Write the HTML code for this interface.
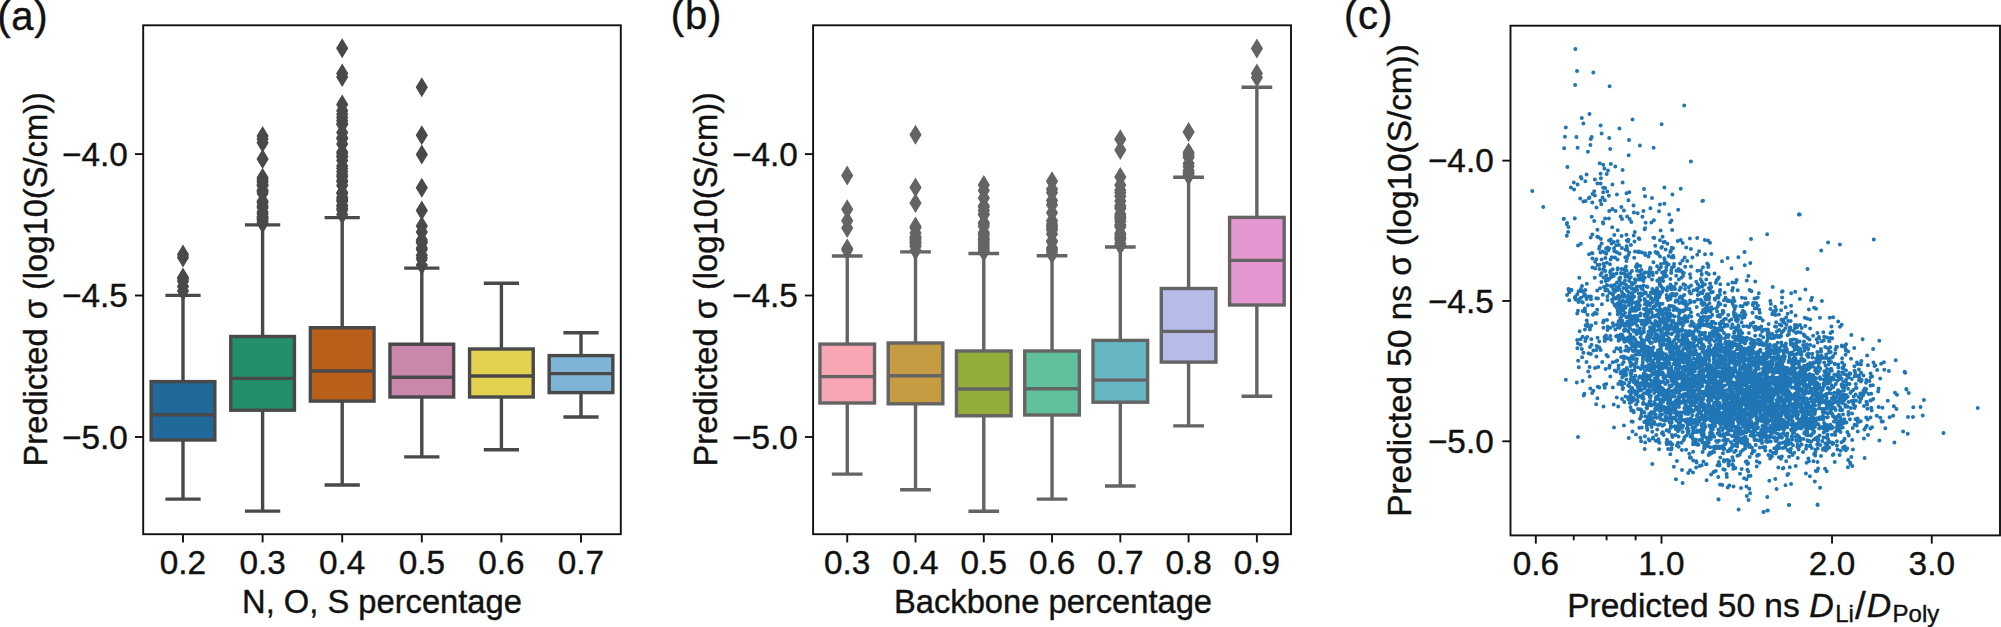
<!DOCTYPE html>
<html><head><meta charset="utf-8"><title>Figure</title>
<style>html,body{margin:0;padding:0;background:#fff}svg{display:block}text{stroke:#111;stroke-width:.4px;stroke-linejoin:round}</style></head>
<body><svg width="2001" height="627" viewBox="0 0 2001 627">
<rect width="2001" height="627" fill="#fff"/>
<g font-family='"Liberation Sans", sans-serif' font-size="33.33" fill="#111">
<path d="M183.00 440.00V499.10M183.00 381.60V295.40M167.08 499.10h31.84M167.08 295.40h31.84" stroke="#494949" stroke-width="3.4" stroke-linecap="square" fill="none"/>
<rect x="151.16" y="381.60" width="63.68" height="58.40" fill="#21699b" stroke="#494949" stroke-width="3.4"/>
<path d="M151.16 414.80h63.68" stroke="#494949" stroke-width="3.4" fill="none"/>
<path d="M262.60 410.20V511.10M262.60 336.50V224.90M246.68 511.10h31.84M246.68 224.90h31.84" stroke="#494949" stroke-width="3.4" stroke-linecap="square" fill="none"/>
<rect x="230.76" y="336.50" width="63.68" height="73.70" fill="#24906b" stroke="#494949" stroke-width="3.4"/>
<path d="M230.76 378.40h63.68" stroke="#494949" stroke-width="3.4" fill="none"/>
<path d="M342.20 401.10V485.00M342.20 327.70V217.60M326.28 485.00h31.84M326.28 217.60h31.84" stroke="#494949" stroke-width="3.4" stroke-linecap="square" fill="none"/>
<rect x="310.36" y="327.70" width="63.68" height="73.40" fill="#ba5f1a" stroke="#494949" stroke-width="3.4"/>
<path d="M310.36 371.00h63.68" stroke="#494949" stroke-width="3.4" fill="none"/>
<path d="M421.80 397.00V456.90M421.80 344.20V268.10M405.88 456.90h31.84M405.88 268.10h31.84" stroke="#494949" stroke-width="3.4" stroke-linecap="square" fill="none"/>
<rect x="389.96" y="344.20" width="63.68" height="52.80" fill="#c988ab" stroke="#494949" stroke-width="3.4"/>
<path d="M389.96 377.30h63.68" stroke="#494949" stroke-width="3.4" fill="none"/>
<path d="M501.40 397.00V449.80M501.40 349.00V283.20M485.48 449.80h31.84M485.48 283.20h31.84" stroke="#494949" stroke-width="3.4" stroke-linecap="square" fill="none"/>
<rect x="469.56" y="349.00" width="63.68" height="48.00" fill="#e2d24f" stroke="#494949" stroke-width="3.4"/>
<path d="M469.56 376.00h63.68" stroke="#494949" stroke-width="3.4" fill="none"/>
<path d="M581.00 392.60V417.00M581.00 355.60V332.70M565.08 417.00h31.84M565.08 332.70h31.84" stroke="#494949" stroke-width="3.4" stroke-linecap="square" fill="none"/>
<rect x="549.16" y="355.60" width="63.68" height="37.00" fill="#7fb4d6" stroke="#494949" stroke-width="3.4"/>
<path d="M549.16 373.60h63.68" stroke="#494949" stroke-width="3.4" fill="none"/>
<path d="M183.0 244.6l6.1 10l-6.1 10l-6.1 -10zM183.0 247.6l6.1 10l-6.1 10l-6.1 -10zM183.0 267.5l6.1 10l-6.1 10l-6.1 -10zM183.0 268.8l6.1 10l-6.1 10l-6.1 -10zM183.0 271.2l6.1 10l-6.1 10l-6.1 -10zM183.0 276.4l6.1 10l-6.1 10l-6.1 -10zM183.0 281.0l6.1 10l-6.1 10l-6.1 -10z" fill="#494949"/>
<path d="M262.6 126.0l6.1 10l-6.1 10l-6.1 -10zM262.6 129.0l6.1 10l-6.1 10l-6.1 -10zM262.6 132.8l6.1 10l-6.1 10l-6.1 -10zM262.6 148.9l6.1 10l-6.1 10l-6.1 -10zM262.6 167.8l6.1 10l-6.1 10l-6.1 -10zM262.6 170.1l6.1 10l-6.1 10l-6.1 -10zM262.6 172.0l6.1 10l-6.1 10l-6.1 -10zM262.6 174.6l6.1 10l-6.1 10l-6.1 -10zM262.6 175.8l6.1 10l-6.1 10l-6.1 -10zM262.6 180.2l6.1 10l-6.1 10l-6.1 -10zM262.6 181.2l6.1 10l-6.1 10l-6.1 -10zM262.6 183.3l6.1 10l-6.1 10l-6.1 -10zM262.6 191.3l6.1 10l-6.1 10l-6.1 -10zM262.6 192.7l6.1 10l-6.1 10l-6.1 -10zM262.6 196.1l6.1 10l-6.1 10l-6.1 -10zM262.6 197.8l6.1 10l-6.1 10l-6.1 -10zM262.6 201.9l6.1 10l-6.1 10l-6.1 -10zM262.6 203.9l6.1 10l-6.1 10l-6.1 -10zM262.6 206.6l6.1 10l-6.1 10l-6.1 -10zM262.6 207.7l6.1 10l-6.1 10l-6.1 -10zM262.6 208.7l6.1 10l-6.1 10l-6.1 -10zM262.6 209.5l6.1 10l-6.1 10l-6.1 -10zM262.6 211.4l6.1 10l-6.1 10l-6.1 -10zM262.6 213.5l6.1 10l-6.1 10l-6.1 -10z" fill="#494949"/>
<path d="M342.2 38.2l6.1 10l-6.1 10l-6.1 -10zM342.2 63.5l6.1 10l-6.1 10l-6.1 -10zM342.2 67.0l6.1 10l-6.1 10l-6.1 -10zM342.2 94.5l6.1 10l-6.1 10l-6.1 -10zM342.2 100.8l6.1 10l-6.1 10l-6.1 -10zM342.2 104.3l6.1 10l-6.1 10l-6.1 -10zM342.2 107.4l6.1 10l-6.1 10l-6.1 -10zM342.2 110.5l6.1 10l-6.1 10l-6.1 -10zM342.2 113.5l6.1 10l-6.1 10l-6.1 -10zM342.2 114.5l6.1 10l-6.1 10l-6.1 -10zM342.2 122.5l6.1 10l-6.1 10l-6.1 -10zM342.2 127.8l6.1 10l-6.1 10l-6.1 -10zM342.2 128.8l6.1 10l-6.1 10l-6.1 -10zM342.2 133.9l6.1 10l-6.1 10l-6.1 -10zM342.2 141.9l6.1 10l-6.1 10l-6.1 -10zM342.2 143.2l6.1 10l-6.1 10l-6.1 -10zM342.2 145.9l6.1 10l-6.1 10l-6.1 -10zM342.2 147.0l6.1 10l-6.1 10l-6.1 -10zM342.2 150.5l6.1 10l-6.1 10l-6.1 -10zM342.2 155.9l6.1 10l-6.1 10l-6.1 -10zM342.2 158.5l6.1 10l-6.1 10l-6.1 -10zM342.2 161.8l6.1 10l-6.1 10l-6.1 -10zM342.2 164.7l6.1 10l-6.1 10l-6.1 -10zM342.2 166.7l6.1 10l-6.1 10l-6.1 -10zM342.2 170.4l6.1 10l-6.1 10l-6.1 -10zM342.2 171.8l6.1 10l-6.1 10l-6.1 -10zM342.2 175.6l6.1 10l-6.1 10l-6.1 -10zM342.2 182.6l6.1 10l-6.1 10l-6.1 -10zM342.2 183.6l6.1 10l-6.1 10l-6.1 -10zM342.2 187.3l6.1 10l-6.1 10l-6.1 -10zM342.2 188.9l6.1 10l-6.1 10l-6.1 -10zM342.2 190.2l6.1 10l-6.1 10l-6.1 -10zM342.2 191.2l6.1 10l-6.1 10l-6.1 -10zM342.2 195.3l6.1 10l-6.1 10l-6.1 -10zM342.2 196.3l6.1 10l-6.1 10l-6.1 -10zM342.2 198.5l6.1 10l-6.1 10l-6.1 -10zM342.2 199.9l6.1 10l-6.1 10l-6.1 -10zM342.2 204.5l6.1 10l-6.1 10l-6.1 -10z" fill="#494949"/>
<path d="M421.8 77.2l6.1 10l-6.1 10l-6.1 -10zM421.8 125.2l6.1 10l-6.1 10l-6.1 -10zM421.8 144.4l6.1 10l-6.1 10l-6.1 -10zM421.8 177.7l6.1 10l-6.1 10l-6.1 -10zM421.8 200.4l6.1 10l-6.1 10l-6.1 -10zM421.8 216.0l6.1 10l-6.1 10l-6.1 -10zM421.8 222.0l6.1 10l-6.1 10l-6.1 -10zM421.8 230.0l6.1 10l-6.1 10l-6.1 -10zM421.8 231.4l6.1 10l-6.1 10l-6.1 -10zM421.8 232.7l6.1 10l-6.1 10l-6.1 -10zM421.8 237.9l6.1 10l-6.1 10l-6.1 -10zM421.8 239.5l6.1 10l-6.1 10l-6.1 -10zM421.8 245.3l6.1 10l-6.1 10l-6.1 -10zM421.8 247.6l6.1 10l-6.1 10l-6.1 -10zM421.8 249.0l6.1 10l-6.1 10l-6.1 -10zM421.8 255.0l6.1 10l-6.1 10l-6.1 -10z" fill="#494949"/>
<path d="" fill="#494949"/>
<path d="" fill="#494949"/>
<rect x="143.2" y="25.3" width="477.60" height="508.90" fill="none" stroke="#111" stroke-width="1.9"/>
<line x1="135.00" y1="154.10" x2="143.20" y2="154.10" stroke="#111" stroke-width="1.9"/>
<text x="127.90" y="165.70" text-anchor="end">−4.0</text>
<line x1="135.00" y1="295.50" x2="143.20" y2="295.50" stroke="#111" stroke-width="1.9"/>
<text x="127.90" y="307.10" text-anchor="end">−4.5</text>
<line x1="135.00" y1="437.00" x2="143.20" y2="437.00" stroke="#111" stroke-width="1.9"/>
<text x="127.90" y="448.60" text-anchor="end">−5.0</text>
<line x1="183.00" y1="534.20" x2="183.00" y2="542.40" stroke="#111" stroke-width="1.9"/>
<text x="183.00" y="573.9" text-anchor="middle">0.2</text>
<line x1="262.60" y1="534.20" x2="262.60" y2="542.40" stroke="#111" stroke-width="1.9"/>
<text x="262.60" y="573.9" text-anchor="middle">0.3</text>
<line x1="342.20" y1="534.20" x2="342.20" y2="542.40" stroke="#111" stroke-width="1.9"/>
<text x="342.20" y="573.9" text-anchor="middle">0.4</text>
<line x1="421.80" y1="534.20" x2="421.80" y2="542.40" stroke="#111" stroke-width="1.9"/>
<text x="421.80" y="573.9" text-anchor="middle">0.5</text>
<line x1="501.40" y1="534.20" x2="501.40" y2="542.40" stroke="#111" stroke-width="1.9"/>
<text x="501.40" y="573.9" text-anchor="middle">0.6</text>
<line x1="581.00" y1="534.20" x2="581.00" y2="542.40" stroke="#111" stroke-width="1.9"/>
<text x="581.00" y="573.9" text-anchor="middle">0.7</text>
<text x="382.00" y="613.3" font-size="32.7" text-anchor="middle">N, O, S percentage</text>
<text transform="translate(46.6 279.25) rotate(-90)" font-size="32.7" text-anchor="middle">Predicted σ (log10(S/cm))</text>
<text x="-2.8" y="29.8" font-size="40" letter-spacing="0.8">(a)</text>
<path d="M847.24 403.00V474.10M847.24 344.10V256.00M833.58 474.10h27.31M833.58 256.00h27.31" stroke="#646464" stroke-width="3.4" stroke-linecap="square" fill="none"/>
<rect x="819.93" y="344.10" width="54.62" height="58.90" fill="#f8a5b4" stroke="#646464" stroke-width="3.4"/>
<path d="M819.93 376.60h54.62" stroke="#646464" stroke-width="3.4" fill="none"/>
<path d="M915.51 403.80V489.80M915.51 343.00V251.90M901.85 489.80h27.31M901.85 251.90h27.31" stroke="#646464" stroke-width="3.4" stroke-linecap="square" fill="none"/>
<rect x="888.20" y="343.00" width="54.62" height="60.80" fill="#c69c43" stroke="#646464" stroke-width="3.4"/>
<path d="M888.20 375.70h54.62" stroke="#646464" stroke-width="3.4" fill="none"/>
<path d="M983.78 415.80V511.30M983.78 351.00V253.50M970.12 511.30h27.31M970.12 253.50h27.31" stroke="#646464" stroke-width="3.4" stroke-linecap="square" fill="none"/>
<rect x="956.47" y="351.00" width="54.62" height="64.80" fill="#93ae38" stroke="#646464" stroke-width="3.4"/>
<path d="M956.47 389.00h54.62" stroke="#646464" stroke-width="3.4" fill="none"/>
<path d="M1052.05 415.00V499.10M1052.05 351.00V255.70M1038.40 499.10h27.31M1038.40 255.70h27.31" stroke="#646464" stroke-width="3.4" stroke-linecap="square" fill="none"/>
<rect x="1024.74" y="351.00" width="54.62" height="64.00" fill="#60c09c" stroke="#646464" stroke-width="3.4"/>
<path d="M1024.74 388.80h54.62" stroke="#646464" stroke-width="3.4" fill="none"/>
<path d="M1120.32 402.20V486.00M1120.32 340.40V247.00M1106.67 486.00h27.31M1106.67 247.00h27.31" stroke="#646464" stroke-width="3.4" stroke-linecap="square" fill="none"/>
<rect x="1093.01" y="340.40" width="54.62" height="61.80" fill="#66b6c4" stroke="#646464" stroke-width="3.4"/>
<path d="M1093.01 380.10h54.62" stroke="#646464" stroke-width="3.4" fill="none"/>
<path d="M1188.59 362.10V425.90M1188.59 288.50V177.30M1174.94 425.90h27.31M1174.94 177.30h27.31" stroke="#646464" stroke-width="3.4" stroke-linecap="square" fill="none"/>
<rect x="1161.28" y="288.50" width="54.62" height="73.60" fill="#b7bbe8" stroke="#646464" stroke-width="3.4"/>
<path d="M1161.28 331.40h54.62" stroke="#646464" stroke-width="3.4" fill="none"/>
<path d="M1256.86 305.00V396.20M1256.86 217.40V87.20M1243.21 396.20h27.31M1243.21 87.20h27.31" stroke="#646464" stroke-width="3.4" stroke-linecap="square" fill="none"/>
<rect x="1229.56" y="217.40" width="54.62" height="87.60" fill="#e496d0" stroke="#646464" stroke-width="3.4"/>
<path d="M1229.56 260.40h54.62" stroke="#646464" stroke-width="3.4" fill="none"/>
<path d="M847.2 165.5l6.1 10l-6.1 10l-6.1 -10zM847.2 199.3l6.1 10l-6.1 10l-6.1 -10zM847.2 210.8l6.1 10l-6.1 10l-6.1 -10zM847.2 218.0l6.1 10l-6.1 10l-6.1 -10zM847.2 238.4l6.1 10l-6.1 10l-6.1 -10zM847.2 240.0l6.1 10l-6.1 10l-6.1 -10z" fill="#646464"/>
<path d="M915.5 124.8l6.1 10l-6.1 10l-6.1 -10zM915.5 177.5l6.1 10l-6.1 10l-6.1 -10zM915.5 192.9l6.1 10l-6.1 10l-6.1 -10zM915.5 216.5l6.1 10l-6.1 10l-6.1 -10zM915.5 217.7l6.1 10l-6.1 10l-6.1 -10zM915.5 223.1l6.1 10l-6.1 10l-6.1 -10zM915.5 226.4l6.1 10l-6.1 10l-6.1 -10zM915.5 227.4l6.1 10l-6.1 10l-6.1 -10zM915.5 228.5l6.1 10l-6.1 10l-6.1 -10zM915.5 229.6l6.1 10l-6.1 10l-6.1 -10zM915.5 231.1l6.1 10l-6.1 10l-6.1 -10zM915.5 232.4l6.1 10l-6.1 10l-6.1 -10zM915.5 233.8l6.1 10l-6.1 10l-6.1 -10zM915.5 235.4l6.1 10l-6.1 10l-6.1 -10zM915.5 236.4l6.1 10l-6.1 10l-6.1 -10zM915.5 240.4l6.1 10l-6.1 10l-6.1 -10z" fill="#646464"/>
<path d="M983.8 174.9l6.1 10l-6.1 10l-6.1 -10zM983.8 180.4l6.1 10l-6.1 10l-6.1 -10zM983.8 188.1l6.1 10l-6.1 10l-6.1 -10zM983.8 196.0l6.1 10l-6.1 10l-6.1 -10zM983.8 197.0l6.1 10l-6.1 10l-6.1 -10zM983.8 200.6l6.1 10l-6.1 10l-6.1 -10zM983.8 203.9l6.1 10l-6.1 10l-6.1 -10zM983.8 204.8l6.1 10l-6.1 10l-6.1 -10zM983.8 212.8l6.1 10l-6.1 10l-6.1 -10zM983.8 213.9l6.1 10l-6.1 10l-6.1 -10zM983.8 216.4l6.1 10l-6.1 10l-6.1 -10zM983.8 222.6l6.1 10l-6.1 10l-6.1 -10zM983.8 224.1l6.1 10l-6.1 10l-6.1 -10zM983.8 225.7l6.1 10l-6.1 10l-6.1 -10zM983.8 228.6l6.1 10l-6.1 10l-6.1 -10zM983.8 229.6l6.1 10l-6.1 10l-6.1 -10zM983.8 231.3l6.1 10l-6.1 10l-6.1 -10zM983.8 232.7l6.1 10l-6.1 10l-6.1 -10zM983.8 235.1l6.1 10l-6.1 10l-6.1 -10zM983.8 237.0l6.1 10l-6.1 10l-6.1 -10zM983.8 238.6l6.1 10l-6.1 10l-6.1 -10zM983.8 240.4l6.1 10l-6.1 10l-6.1 -10zM983.8 242.0l6.1 10l-6.1 10l-6.1 -10z" fill="#646464"/>
<path d="M1052.0 171.2l6.1 10l-6.1 10l-6.1 -10zM1052.0 179.2l6.1 10l-6.1 10l-6.1 -10zM1052.0 182.4l6.1 10l-6.1 10l-6.1 -10zM1052.0 190.4l6.1 10l-6.1 10l-6.1 -10zM1052.0 194.8l6.1 10l-6.1 10l-6.1 -10zM1052.0 202.7l6.1 10l-6.1 10l-6.1 -10zM1052.0 210.7l6.1 10l-6.1 10l-6.1 -10zM1052.0 214.0l6.1 10l-6.1 10l-6.1 -10zM1052.0 215.6l6.1 10l-6.1 10l-6.1 -10zM1052.0 217.2l6.1 10l-6.1 10l-6.1 -10zM1052.0 218.9l6.1 10l-6.1 10l-6.1 -10zM1052.0 220.0l6.1 10l-6.1 10l-6.1 -10zM1052.0 224.1l6.1 10l-6.1 10l-6.1 -10zM1052.0 230.9l6.1 10l-6.1 10l-6.1 -10zM1052.0 231.8l6.1 10l-6.1 10l-6.1 -10zM1052.0 237.9l6.1 10l-6.1 10l-6.1 -10zM1052.0 239.8l6.1 10l-6.1 10l-6.1 -10zM1052.0 241.5l6.1 10l-6.1 10l-6.1 -10zM1052.0 244.2l6.1 10l-6.1 10l-6.1 -10z" fill="#646464"/>
<path d="M1120.3 129.3l6.1 10l-6.1 10l-6.1 -10zM1120.3 139.9l6.1 10l-6.1 10l-6.1 -10zM1120.3 166.9l6.1 10l-6.1 10l-6.1 -10zM1120.3 174.9l6.1 10l-6.1 10l-6.1 -10zM1120.3 180.3l6.1 10l-6.1 10l-6.1 -10zM1120.3 182.8l6.1 10l-6.1 10l-6.1 -10zM1120.3 186.3l6.1 10l-6.1 10l-6.1 -10zM1120.3 190.9l6.1 10l-6.1 10l-6.1 -10zM1120.3 195.7l6.1 10l-6.1 10l-6.1 -10zM1120.3 196.9l6.1 10l-6.1 10l-6.1 -10zM1120.3 198.4l6.1 10l-6.1 10l-6.1 -10zM1120.3 203.9l6.1 10l-6.1 10l-6.1 -10zM1120.3 205.9l6.1 10l-6.1 10l-6.1 -10zM1120.3 207.3l6.1 10l-6.1 10l-6.1 -10zM1120.3 208.8l6.1 10l-6.1 10l-6.1 -10zM1120.3 211.3l6.1 10l-6.1 10l-6.1 -10zM1120.3 214.7l6.1 10l-6.1 10l-6.1 -10zM1120.3 215.8l6.1 10l-6.1 10l-6.1 -10zM1120.3 216.9l6.1 10l-6.1 10l-6.1 -10zM1120.3 223.3l6.1 10l-6.1 10l-6.1 -10zM1120.3 224.8l6.1 10l-6.1 10l-6.1 -10zM1120.3 227.0l6.1 10l-6.1 10l-6.1 -10zM1120.3 228.6l6.1 10l-6.1 10l-6.1 -10zM1120.3 229.8l6.1 10l-6.1 10l-6.1 -10zM1120.3 233.3l6.1 10l-6.1 10l-6.1 -10zM1120.3 235.5l6.1 10l-6.1 10l-6.1 -10z" fill="#646464"/>
<path d="M1188.6 122.0l6.1 10l-6.1 10l-6.1 -10zM1188.6 142.4l6.1 10l-6.1 10l-6.1 -10zM1188.6 144.7l6.1 10l-6.1 10l-6.1 -10zM1188.6 147.3l6.1 10l-6.1 10l-6.1 -10zM1188.6 153.4l6.1 10l-6.1 10l-6.1 -10zM1188.6 156.6l6.1 10l-6.1 10l-6.1 -10zM1188.6 160.5l6.1 10l-6.1 10l-6.1 -10zM1188.6 162.7l6.1 10l-6.1 10l-6.1 -10zM1188.6 163.6l6.1 10l-6.1 10l-6.1 -10zM1188.6 165.8l6.1 10l-6.1 10l-6.1 -10z" fill="#646464"/>
<path d="M1256.9 38.5l6.1 10l-6.1 10l-6.1 -10zM1256.9 63.6l6.1 10l-6.1 10l-6.1 -10zM1256.9 67.6l6.1 10l-6.1 10l-6.1 -10z" fill="#646464"/>
<rect x="813.1" y="25.3" width="477.90" height="508.90" fill="none" stroke="#111" stroke-width="1.9"/>
<line x1="804.90" y1="154.10" x2="813.10" y2="154.10" stroke="#111" stroke-width="1.9"/>
<text x="797.80" y="165.70" text-anchor="end">−4.0</text>
<line x1="804.90" y1="295.50" x2="813.10" y2="295.50" stroke="#111" stroke-width="1.9"/>
<text x="797.80" y="307.10" text-anchor="end">−4.5</text>
<line x1="804.90" y1="437.00" x2="813.10" y2="437.00" stroke="#111" stroke-width="1.9"/>
<text x="797.80" y="448.60" text-anchor="end">−5.0</text>
<line x1="847.24" y1="534.20" x2="847.24" y2="542.40" stroke="#111" stroke-width="1.9"/>
<text x="847.24" y="573.9" text-anchor="middle">0.3</text>
<line x1="915.51" y1="534.20" x2="915.51" y2="542.40" stroke="#111" stroke-width="1.9"/>
<text x="915.51" y="573.9" text-anchor="middle">0.4</text>
<line x1="983.78" y1="534.20" x2="983.78" y2="542.40" stroke="#111" stroke-width="1.9"/>
<text x="983.78" y="573.9" text-anchor="middle">0.5</text>
<line x1="1052.05" y1="534.20" x2="1052.05" y2="542.40" stroke="#111" stroke-width="1.9"/>
<text x="1052.05" y="573.9" text-anchor="middle">0.6</text>
<line x1="1120.32" y1="534.20" x2="1120.32" y2="542.40" stroke="#111" stroke-width="1.9"/>
<text x="1120.32" y="573.9" text-anchor="middle">0.7</text>
<line x1="1188.59" y1="534.20" x2="1188.59" y2="542.40" stroke="#111" stroke-width="1.9"/>
<text x="1188.59" y="573.9" text-anchor="middle">0.8</text>
<line x1="1256.86" y1="534.20" x2="1256.86" y2="542.40" stroke="#111" stroke-width="1.9"/>
<text x="1256.86" y="573.9" text-anchor="middle">0.9</text>
<text x="1053.05" y="613.3" font-size="32.7" text-anchor="middle">Backbone percentage</text>
<text transform="translate(716.50 279.25) rotate(-90)" font-size="32.7" text-anchor="middle">Predicted σ (log10(S/cm))</text>
<text x="670.8" y="29.4" font-size="40" letter-spacing="0.8">(b)</text>
<path d="M1612.2 227.2h0M1645.1 228.2h0M1597.4 229.8h0M1617.7 230.2h0M1644.6 229.2h0M1660.6 230.6h0M1672.2 230.1h0M1634.8 231.9h0M1592.3 234.6h0M1626.4 234.8h0M1597.2 236.7h0M1614.2 235.0h0M1621.6 236.0h0M1633.7 235.4h0M1662.6 236.7h0M1590.7 237.6h0M1598.6 237.3h0M1638.7 238.3h0M1653.4 237.7h0M1654.3 237.9h0M1689.9 238.4h0M1697.2 238.0h0M1600.9 239.1h0M1609.1 240.4h0M1610.7 239.6h0M1626.8 240.6h0M1628.5 239.7h0M1639.4 239.1h0M1660.0 240.2h0M1680.7 240.1h0M1704.8 240.0h0M1708.2 240.4h0M1751.0 239.1h0M1613.8 242.0h0M1617.7 241.3h0M1628.0 241.6h0M1634.5 241.5h0M1663.5 242.2h0M1664.7 241.8h0M1677.7 241.1h0M1710.0 242.8h0M1601.6 243.5h0M1611.6 243.6h0M1667.4 243.7h0M1682.7 243.0h0M1599.7 246.5h0M1616.2 245.3h0M1619.0 245.1h0M1626.6 246.2h0M1630.9 245.0h0M1655.3 245.7h0M1599.1 248.7h0M1606.1 248.6h0M1607.7 247.4h0M1609.2 248.4h0M1614.0 248.2h0M1621.9 248.1h0M1627.0 248.3h0M1661.9 247.0h0M1661.3 247.8h0M1671.8 247.8h0M1673.0 248.2h0M1686.2 247.4h0M1608.2 250.4h0M1614.2 250.9h0M1625.5 249.6h0M1627.1 250.1h0M1665.6 249.4h0M1670.6 250.9h0M1670.9 250.9h0M1690.9 249.1h0M1821.2 250.6h0M1592.0 253.0h0M1600.4 252.4h0M1602.7 251.6h0M1604.7 252.4h0M1615.2 251.6h0M1617.2 252.4h0M1629.2 252.6h0M1635.0 251.4h0M1639.6 252.0h0M1638.6 251.5h0M1638.2 252.1h0M1642.0 252.4h0M1650.1 252.9h0M1655.5 252.0h0M1657.5 252.6h0M1670.3 252.0h0M1699.1 251.2h0M1744.4 252.1h0M1744.6 252.1h0M1589.1 254.2h0M1592.5 253.3h0M1606.2 253.7h0M1619.7 253.7h0M1644.9 253.2h0M1649.4 253.1h0M1656.9 253.4h0M1658.0 253.8h0M1697.2 254.7h0M1705.0 254.2h0M1711.4 253.9h0M1628.4 255.1h0M1645.3 255.1h0M1648.6 256.5h0M1660.0 256.5h0M1668.6 256.1h0M1673.0 255.8h0M1592.4 258.5h0M1605.4 257.9h0M1611.7 257.3h0M1615.0 257.5h0M1614.6 257.4h0M1625.3 257.2h0M1627.0 258.0h0M1634.2 257.8h0M1664.2 258.2h0M1671.5 257.2h0M1673.5 257.6h0M1684.7 257.5h0M1692.4 257.5h0M1727.6 257.9h0M1738.4 257.2h0M1596.3 259.2h0M1601.6 259.5h0M1610.6 259.4h0M1617.5 259.5h0M1626.4 260.9h0M1664.6 259.5h0M1682.5 260.4h0M1687.2 261.0h0M1595.2 261.8h0M1606.9 262.8h0M1653.4 262.3h0M1664.3 263.0h0M1666.2 262.8h0M1722.0 261.3h0M1750.3 262.9h0M1599.6 264.7h0M1603.6 263.7h0M1610.0 264.2h0M1637.3 264.5h0M1637.0 264.2h0M1660.9 264.0h0M1667.7 264.3h0M1668.6 264.4h0M1674.1 264.0h0M1680.1 263.6h0M1707.2 263.4h0M1597.5 265.1h0M1604.2 266.6h0M1626.0 266.6h0M1635.9 266.6h0M1636.4 266.0h0M1640.2 266.1h0M1657.1 266.2h0M1673.9 266.6h0M1685.2 266.7h0M1691.1 266.5h0M1708.2 266.9h0M1708.3 265.1h0M1744.8 265.2h0M1592.4 267.4h0M1595.1 268.4h0M1595.0 268.3h0M1617.7 268.2h0M1621.6 268.9h0M1625.0 268.4h0M1636.6 267.3h0M1650.6 268.4h0M1650.2 267.7h0M1661.0 267.0h0M1666.3 267.1h0M1672.0 267.6h0M1678.6 268.9h0M1703.0 267.3h0M1731.5 268.2h0M1599.4 269.1h0M1603.3 269.3h0M1605.3 270.9h0M1610.7 270.7h0M1612.7 269.2h0M1617.6 269.4h0M1624.2 269.7h0M1626.6 270.7h0M1637.0 270.8h0M1639.6 271.0h0M1641.5 270.1h0M1650.0 269.0h0M1659.1 269.4h0M1666.1 269.9h0M1671.2 270.3h0M1676.4 270.8h0M1680.9 270.4h0M1697.4 270.7h0M1700.9 270.6h0M1807.5 269.1h0M1610.1 272.3h0M1631.9 271.1h0M1639.8 271.2h0M1644.9 272.5h0M1645.5 272.6h0M1648.8 272.1h0M1652.3 272.6h0M1656.6 272.6h0M1662.1 272.4h0M1663.7 272.1h0M1665.3 272.1h0M1671.2 272.9h0M1678.8 271.1h0M1682.4 272.3h0M1683.9 272.9h0M1706.5 272.8h0M1601.7 273.0h0M1612.0 274.3h0M1613.2 274.2h0M1616.5 273.5h0M1621.3 273.3h0M1620.9 273.1h0M1624.1 273.5h0M1624.0 273.4h0M1627.7 274.8h0M1630.1 273.3h0M1641.4 273.9h0M1649.0 274.7h0M1649.4 273.2h0M1652.9 274.9h0M1663.8 274.8h0M1664.6 274.6h0M1690.0 274.3h0M1701.7 274.3h0M1701.7 274.1h0M1701.7 274.8h0M1708.8 274.3h0M1714.5 273.5h0M1600.5 275.1h0M1606.3 275.5h0M1610.9 275.6h0M1613.7 276.1h0M1625.4 276.6h0M1627.7 276.5h0M1638.2 275.6h0M1642.9 275.4h0M1642.8 275.4h0M1649.0 276.4h0M1664.6 276.5h0M1666.6 276.1h0M1676.2 275.7h0M1683.0 275.9h0M1748.4 275.9h0M1594.7 277.8h0M1603.5 277.4h0M1609.4 278.7h0M1611.4 277.1h0M1619.3 278.6h0M1619.2 278.5h0M1620.2 277.6h0M1629.4 278.1h0M1630.8 277.3h0M1639.1 277.1h0M1642.7 278.0h0M1644.8 277.7h0M1659.5 278.4h0M1662.6 277.8h0M1670.4 279.0h0M1681.3 277.8h0M1690.5 277.7h0M1718.8 277.6h0M1608.0 280.0h0M1606.4 279.9h0M1606.2 279.4h0M1608.1 279.1h0M1619.8 279.6h0M1619.4 280.5h0M1625.0 280.5h0M1629.1 280.7h0M1635.7 279.9h0M1634.9 279.2h0M1639.0 279.6h0M1638.7 279.5h0M1641.6 279.8h0M1643.4 281.0h0M1652.0 279.6h0M1657.3 280.7h0M1660.6 279.7h0M1661.6 279.8h0M1678.8 279.6h0M1700.7 279.2h0M1706.2 279.4h0M1717.9 279.0h0M1716.5 280.4h0M1736.6 280.1h0M1746.8 280.6h0M1601.4 282.0h0M1605.7 281.0h0M1617.0 282.6h0M1621.2 282.9h0M1634.9 282.6h0M1635.1 281.9h0M1663.2 281.0h0M1696.2 281.7h0M1701.8 281.8h0M1715.9 282.7h0M1732.4 282.6h0M1735.7 282.4h0M1755.2 281.5h0M1614.7 285.0h0M1622.9 283.3h0M1623.1 283.4h0M1625.9 284.4h0M1631.6 283.0h0M1633.6 283.3h0M1632.2 284.8h0M1659.6 284.4h0M1659.7 283.3h0M1670.4 284.4h0M1676.0 283.5h0M1683.4 284.3h0M1697.9 284.3h0M1702.5 283.3h0M1704.9 284.4h0M1710.1 283.7h0M1710.1 283.5h0M1720.3 284.2h0M1728.1 284.2h0M1603.9 286.9h0M1606.8 285.0h0M1607.4 285.6h0M1611.3 286.4h0M1611.2 285.6h0M1613.6 285.5h0M1618.9 286.3h0M1620.0 285.2h0M1628.7 286.7h0M1636.9 286.6h0M1640.3 286.4h0M1643.5 285.6h0M1646.6 286.6h0M1660.1 285.6h0M1661.2 286.4h0M1661.4 286.7h0M1660.2 285.1h0M1660.6 285.2h0M1670.5 286.0h0M1671.7 286.4h0M1674.2 286.9h0M1685.3 285.3h0M1691.1 285.4h0M1699.6 286.7h0M1702.2 286.4h0M1772.7 286.9h0M1600.1 288.2h0M1616.6 287.7h0M1623.4 288.1h0M1626.1 288.3h0M1631.5 288.6h0M1632.7 288.9h0M1635.9 287.9h0M1641.4 288.6h0M1647.5 287.1h0M1652.4 289.0h0M1657.0 288.2h0M1663.2 288.3h0M1667.5 287.3h0M1673.8 287.5h0M1672.5 287.0h0M1680.3 287.5h0M1681.0 287.8h0M1688.8 287.2h0M1696.9 288.8h0M1699.3 287.4h0M1708.9 288.1h0M1711.3 287.1h0M1710.2 288.8h0M1732.9 287.9h0M1605.5 289.2h0M1605.3 290.4h0M1607.5 289.9h0M1613.3 289.4h0M1617.8 289.3h0M1617.6 290.0h0M1619.4 289.0h0M1626.9 290.5h0M1634.4 289.9h0M1637.2 289.7h0M1642.7 289.2h0M1655.9 290.3h0M1657.1 290.7h0M1662.7 289.1h0M1666.9 290.5h0M1666.5 290.3h0M1671.8 289.3h0M1670.9 289.1h0M1675.0 289.1h0M1679.4 289.9h0M1685.1 289.0h0M1693.6 290.2h0M1697.4 290.4h0M1703.6 290.4h0M1709.7 289.3h0M1720.2 290.1h0M1732.2 290.4h0M1737.7 290.2h0M1749.6 290.1h0M1805.4 289.4h0M1609.4 292.7h0M1615.6 291.0h0M1621.8 291.8h0M1628.5 292.1h0M1634.9 291.6h0M1645.9 292.7h0M1644.8 292.3h0M1650.8 292.6h0M1653.4 291.5h0M1658.6 291.6h0M1658.1 291.3h0M1662.3 291.7h0M1689.3 291.2h0M1701.0 292.6h0M1711.2 292.5h0M1712.8 292.1h0M1719.8 291.2h0M1724.6 292.7h0M1751.5 291.2h0M1781.9 291.7h0M1782.6 291.2h0M1795.2 291.8h0M1609.9 293.1h0M1613.5 293.3h0M1612.9 294.8h0M1622.4 293.6h0M1624.2 294.7h0M1631.5 293.2h0M1632.1 293.3h0M1632.1 294.3h0M1638.7 293.6h0M1640.7 293.2h0M1644.3 293.6h0M1653.4 293.3h0M1655.5 293.9h0M1657.8 294.4h0M1660.2 294.2h0M1666.7 294.9h0M1671.2 294.3h0M1672.9 293.8h0M1673.1 294.8h0M1676.6 294.1h0M1691.0 293.6h0M1690.0 293.0h0M1697.8 294.9h0M1698.9 294.3h0M1702.5 293.3h0M1707.0 294.3h0M1708.3 294.3h0M1719.9 294.8h0M1758.8 293.3h0M1791.2 293.3h0M1607.4 296.2h0M1617.8 296.7h0M1618.8 295.7h0M1621.7 296.2h0M1623.3 296.6h0M1624.6 296.6h0M1628.1 295.7h0M1634.1 296.5h0M1641.8 295.5h0M1648.1 295.9h0M1649.9 295.7h0M1657.5 296.9h0M1667.6 296.4h0M1671.7 295.8h0M1670.7 295.5h0M1675.1 295.8h0M1680.8 296.5h0M1684.2 295.1h0M1709.1 296.7h0M1717.4 296.0h0M1614.0 297.6h0M1615.8 298.8h0M1617.5 297.0h0M1619.3 298.5h0M1629.4 299.0h0M1630.0 297.2h0M1631.6 298.9h0M1632.9 297.7h0M1639.2 297.3h0M1651.3 298.0h0M1650.9 298.7h0M1655.8 297.1h0M1659.3 297.1h0M1666.8 297.7h0M1667.6 297.7h0M1668.4 297.6h0M1670.5 298.9h0M1679.7 297.4h0M1682.1 297.9h0M1705.8 297.2h0M1705.0 297.1h0M1709.1 297.6h0M1714.8 298.4h0M1718.4 297.7h0M1725.5 297.7h0M1733.4 298.0h0M1742.0 297.7h0M1745.4 298.3h0M1755.9 298.3h0M1754.4 298.4h0M1757.8 297.4h0M1782.1 297.6h0M1799.9 298.9h0M1812.0 297.8h0M1612.1 299.5h0M1622.9 300.4h0M1623.0 301.0h0M1627.4 299.0h0M1629.2 299.6h0M1631.9 299.5h0M1639.5 299.5h0M1640.3 299.9h0M1645.1 300.5h0M1644.5 299.8h0M1644.7 299.1h0M1655.3 299.6h0M1654.6 299.3h0M1657.5 299.9h0M1667.9 300.0h0M1676.0 300.4h0M1677.7 300.4h0M1682.2 300.4h0M1690.0 300.4h0M1697.5 299.6h0M1701.7 300.8h0M1700.9 299.8h0M1705.9 299.6h0M1708.9 299.3h0M1715.0 299.8h0M1724.0 300.3h0M1727.8 300.3h0M1729.9 300.9h0M1770.3 301.0h0M1811.1 300.3h0M1821.9 301.0h0M1612.4 301.8h0M1619.4 301.8h0M1622.6 301.3h0M1624.1 301.7h0M1625.8 302.0h0M1628.2 301.5h0M1631.9 301.9h0M1632.6 302.5h0M1633.0 302.2h0M1637.2 302.1h0M1638.8 302.6h0M1647.6 301.7h0M1652.7 301.9h0M1675.4 301.8h0M1679.3 302.9h0M1682.6 302.9h0M1683.9 301.0h0M1685.8 301.7h0M1690.3 302.6h0M1694.0 301.8h0M1694.6 301.8h0M1702.3 302.4h0M1718.7 302.6h0M1727.8 301.3h0M1732.5 301.2h0M1734.5 301.1h0M1747.8 302.9h0M1753.2 303.0h0M1756.1 302.9h0M1781.8 302.7h0M1614.5 304.5h0M1617.7 303.4h0M1617.5 303.4h0M1620.8 304.2h0M1629.4 303.8h0M1629.6 303.1h0M1631.3 304.4h0M1635.4 303.1h0M1637.1 304.3h0M1644.9 304.3h0M1645.4 303.8h0M1646.5 304.4h0M1646.8 303.0h0M1649.2 303.1h0M1650.0 304.9h0M1656.5 303.2h0M1656.5 303.2h0M1659.4 303.5h0M1662.5 303.8h0M1685.2 304.7h0M1687.5 304.6h0M1686.7 304.7h0M1701.4 303.6h0M1702.2 303.2h0M1702.6 304.5h0M1704.4 303.3h0M1709.4 303.3h0M1718.3 304.7h0M1720.4 304.2h0M1732.5 303.7h0M1745.1 303.5h0M1746.6 304.3h0M1770.9 303.9h0M1618.0 305.6h0M1622.9 305.9h0M1625.1 306.0h0M1628.9 305.3h0M1636.3 306.2h0M1639.9 305.4h0M1638.4 306.1h0M1650.0 305.3h0M1653.8 306.5h0M1654.7 306.2h0M1655.6 305.8h0M1659.4 306.3h0M1669.4 305.8h0M1671.6 305.9h0M1673.8 306.6h0M1702.8 305.1h0M1707.6 306.9h0M1706.7 305.5h0M1717.8 306.5h0M1725.1 305.4h0M1733.8 306.3h0M1735.8 306.2h0M1740.5 306.0h0M1742.6 306.3h0M1752.9 305.1h0M1757.9 305.6h0M1775.1 306.8h0M1791.1 305.8h0M1616.8 307.8h0M1620.0 307.8h0M1622.3 308.1h0M1623.2 307.8h0M1625.5 307.8h0M1632.5 308.0h0M1634.7 307.7h0M1637.7 308.0h0M1637.0 307.3h0M1639.1 308.9h0M1643.9 308.9h0M1646.7 307.9h0M1653.2 308.3h0M1665.0 308.6h0M1668.8 307.7h0M1675.2 308.0h0M1674.7 308.9h0M1676.7 308.7h0M1686.3 307.6h0M1687.7 308.9h0M1696.7 307.1h0M1705.3 308.4h0M1706.2 307.7h0M1711.4 307.3h0M1712.3 308.8h0M1716.0 308.6h0M1754.7 308.4h0M1756.5 308.1h0M1785.6 307.3h0M1816.0 308.8h0M1814.1 307.8h0M1617.8 310.1h0M1619.0 309.9h0M1620.5 310.3h0M1620.1 309.4h0M1622.2 309.9h0M1623.3 309.9h0M1630.9 309.0h0M1630.3 309.7h0M1633.0 310.7h0M1635.9 310.8h0M1635.9 309.5h0M1637.3 309.5h0M1646.2 310.5h0M1650.4 309.6h0M1650.5 310.4h0M1656.8 310.0h0M1659.8 310.2h0M1660.1 309.9h0M1660.3 309.1h0M1662.3 310.2h0M1665.9 310.0h0M1666.6 310.6h0M1669.1 309.9h0M1673.4 310.0h0M1676.5 310.0h0M1679.0 309.9h0M1683.0 310.5h0M1684.4 310.6h0M1684.0 310.2h0M1689.6 309.0h0M1703.1 309.9h0M1705.8 310.3h0M1708.7 310.7h0M1708.7 309.7h0M1722.7 310.8h0M1734.6 309.2h0M1742.9 310.8h0M1759.2 309.7h0M1770.4 309.0h0M1776.2 310.0h0M1781.1 310.2h0M1808.9 309.5h0M1617.8 311.3h0M1619.1 312.1h0M1620.6 312.5h0M1620.0 311.4h0M1625.0 313.0h0M1629.6 312.3h0M1630.4 311.1h0M1649.7 311.9h0M1649.1 311.1h0M1651.8 312.5h0M1658.5 311.1h0M1661.1 312.7h0M1666.5 312.6h0M1679.2 311.4h0M1681.2 311.1h0M1682.9 311.6h0M1691.0 312.2h0M1702.1 312.7h0M1705.7 312.6h0M1705.7 311.2h0M1710.6 311.7h0M1717.1 311.4h0M1723.5 312.2h0M1723.3 311.1h0M1733.8 312.3h0M1742.0 312.7h0M1744.4 311.9h0M1752.5 312.8h0M1759.8 312.7h0M1773.5 311.2h0M1775.1 311.4h0M1791.3 312.1h0M1617.8 314.2h0M1620.0 313.1h0M1623.5 315.0h0M1629.6 313.1h0M1640.5 313.5h0M1644.5 314.5h0M1648.0 314.3h0M1646.4 313.8h0M1657.4 314.6h0M1660.0 313.4h0M1664.0 313.6h0M1666.0 314.1h0M1667.1 314.9h0M1668.3 314.4h0M1670.0 313.9h0M1670.1 313.4h0M1679.4 313.2h0M1698.0 314.8h0M1722.4 313.8h0M1735.8 314.3h0M1734.0 314.6h0M1745.4 314.4h0M1772.3 314.3h0M1772.4 313.4h0M1775.5 315.0h0M1778.9 314.5h0M1787.6 313.7h0M1621.6 316.4h0M1627.9 316.6h0M1627.2 316.8h0M1628.4 316.9h0M1630.9 316.1h0M1634.4 316.1h0M1636.3 316.1h0M1638.6 315.8h0M1640.2 315.5h0M1644.9 315.9h0M1644.7 315.8h0M1652.6 315.8h0M1652.6 316.2h0M1654.6 315.7h0M1654.3 316.6h0M1654.3 315.8h0M1658.1 315.9h0M1662.6 315.6h0M1669.9 316.5h0M1670.2 316.3h0M1672.4 315.6h0M1674.6 316.6h0M1678.6 316.2h0M1685.1 315.9h0M1689.1 315.7h0M1691.3 316.4h0M1703.8 317.0h0M1703.4 316.7h0M1705.3 317.0h0M1708.9 316.8h0M1712.3 315.1h0M1717.6 316.0h0M1719.9 316.8h0M1719.3 315.0h0M1728.2 315.1h0M1734.3 316.6h0M1736.9 316.9h0M1739.5 315.7h0M1743.1 316.6h0M1756.4 316.9h0M1795.6 315.5h0M1620.3 317.9h0M1626.3 317.2h0M1628.5 317.1h0M1631.0 317.2h0M1634.8 318.3h0M1637.3 318.8h0M1646.9 317.4h0M1648.4 317.9h0M1650.1 318.0h0M1651.3 317.2h0M1659.8 318.6h0M1658.1 317.1h0M1663.8 318.1h0M1665.6 318.2h0M1666.5 318.2h0M1667.1 317.3h0M1667.5 318.6h0M1679.0 318.4h0M1681.9 318.6h0M1684.6 317.6h0M1685.8 318.2h0M1687.9 318.0h0M1700.7 317.6h0M1702.4 318.6h0M1710.5 317.1h0M1725.9 318.8h0M1742.2 318.0h0M1742.6 317.1h0M1744.5 317.2h0M1759.0 318.3h0M1759.4 317.8h0M1760.5 318.1h0M1786.2 317.6h0M1804.8 317.8h0M1807.1 318.6h0M1819.9 317.8h0M1829.7 317.7h0M1833.1 317.3h0M1621.8 320.6h0M1622.4 320.7h0M1630.3 320.5h0M1630.1 319.7h0M1633.1 319.7h0M1635.2 319.3h0M1637.2 319.2h0M1639.9 320.8h0M1641.3 320.7h0M1644.2 320.6h0M1647.5 319.2h0M1647.9 320.6h0M1648.7 320.2h0M1655.3 320.9h0M1661.9 320.7h0M1670.2 319.9h0M1671.6 321.0h0M1673.3 320.8h0M1678.9 320.4h0M1684.7 320.4h0M1699.3 320.7h0M1707.9 319.8h0M1706.9 320.8h0M1706.5 320.1h0M1724.1 319.3h0M1731.3 319.6h0M1735.8 320.1h0M1738.0 319.6h0M1762.7 320.5h0M1781.4 319.8h0M1783.5 319.4h0M1810.2 319.6h0M1618.6 321.3h0M1620.9 322.7h0M1627.4 321.6h0M1628.9 322.9h0M1631.4 321.1h0M1631.5 321.4h0M1636.0 321.9h0M1635.4 322.9h0M1636.2 321.8h0M1641.8 321.0h0M1645.3 322.4h0M1647.4 323.0h0M1650.0 321.8h0M1658.4 321.9h0M1661.3 322.6h0M1664.9 321.8h0M1664.3 322.1h0M1667.5 321.5h0M1673.0 322.2h0M1672.7 322.1h0M1679.0 322.9h0M1681.3 322.2h0M1683.9 323.0h0M1684.6 321.1h0M1687.5 321.6h0M1691.8 321.4h0M1692.0 322.2h0M1702.9 321.1h0M1711.9 321.7h0M1713.4 321.9h0M1721.5 321.5h0M1723.0 321.8h0M1722.0 322.9h0M1722.9 321.7h0M1729.3 321.0h0M1737.0 321.2h0M1741.6 322.2h0M1753.3 322.4h0M1776.1 322.2h0M1782.8 321.4h0M1784.1 322.6h0M1788.2 321.1h0M1790.6 321.0h0M1838.2 321.5h0M1623.9 323.6h0M1622.9 323.7h0M1625.6 323.8h0M1624.9 323.9h0M1628.6 325.0h0M1630.1 323.2h0M1630.2 324.8h0M1631.0 324.7h0M1632.5 323.9h0M1641.8 324.1h0M1645.0 324.0h0M1645.7 324.4h0M1651.9 323.4h0M1653.8 324.5h0M1655.7 324.4h0M1664.3 323.4h0M1666.1 323.8h0M1671.2 324.3h0M1675.8 323.4h0M1675.5 323.7h0M1679.9 323.7h0M1691.2 324.4h0M1693.8 324.0h0M1693.5 323.7h0M1699.4 324.5h0M1698.2 324.6h0M1700.9 323.2h0M1702.1 324.5h0M1703.6 324.7h0M1706.4 324.1h0M1707.0 324.1h0M1711.3 324.8h0M1711.5 323.2h0M1710.2 324.1h0M1715.3 323.4h0M1719.5 323.6h0M1720.4 324.0h0M1724.8 325.0h0M1732.3 324.6h0M1750.8 323.8h0M1768.6 324.1h0M1779.7 324.6h0M1786.4 324.7h0M1794.9 325.0h0M1800.0 324.9h0M1841.7 324.8h0M1618.5 325.6h0M1620.5 326.1h0M1624.5 326.0h0M1625.2 325.5h0M1626.6 325.7h0M1637.1 325.7h0M1644.2 326.0h0M1653.6 326.5h0M1656.3 325.4h0M1658.4 325.4h0M1658.1 325.4h0M1660.0 325.8h0M1665.0 326.0h0M1664.1 327.0h0M1666.5 325.5h0M1667.8 325.7h0M1666.1 326.3h0M1669.8 325.4h0M1670.1 325.7h0M1671.4 326.3h0M1677.1 325.7h0M1677.4 326.8h0M1682.8 325.4h0M1690.3 325.7h0M1694.3 326.2h0M1694.1 326.5h0M1699.7 326.5h0M1700.5 325.6h0M1703.7 325.2h0M1705.9 325.3h0M1707.8 326.1h0M1720.3 326.2h0M1725.9 325.0h0M1724.7 326.5h0M1727.5 325.1h0M1727.7 325.7h0M1738.4 325.3h0M1738.6 326.5h0M1743.4 326.2h0M1746.9 326.2h0M1750.7 325.0h0M1755.7 326.8h0M1761.2 326.6h0M1775.0 326.6h0M1776.1 326.7h0M1781.4 325.4h0M1796.2 325.1h0M1805.3 326.0h0M1831.4 326.5h0M1840.0 326.8h0M1618.0 327.5h0M1619.5 327.8h0M1629.7 327.9h0M1630.0 328.6h0M1639.9 328.3h0M1643.8 328.7h0M1650.0 327.2h0M1651.2 328.9h0M1651.7 328.6h0M1654.0 328.6h0M1658.6 327.1h0M1663.4 328.7h0M1665.8 328.7h0M1666.0 328.8h0M1669.5 327.4h0M1669.8 328.9h0M1668.6 327.5h0M1674.1 327.1h0M1675.2 328.5h0M1682.0 328.9h0M1695.6 327.1h0M1695.7 328.0h0M1697.9 327.5h0M1699.8 327.4h0M1710.8 327.3h0M1714.1 327.6h0M1717.6 328.8h0M1716.9 328.7h0M1721.5 327.8h0M1731.3 327.9h0M1735.0 327.5h0M1749.0 327.0h0M1754.0 327.2h0M1756.9 328.5h0M1758.6 328.0h0M1759.9 328.3h0M1785.2 328.5h0M1789.4 327.8h0M1790.4 327.5h0M1794.8 328.2h0M1797.0 327.2h0M1801.7 328.1h0M1810.1 328.6h0M1624.0 330.1h0M1625.6 330.1h0M1626.2 330.1h0M1633.6 330.2h0M1633.0 330.2h0M1634.1 330.4h0M1634.7 330.4h0M1636.8 330.2h0M1639.0 330.2h0M1649.8 330.7h0M1654.3 329.4h0M1655.9 330.5h0M1659.0 329.7h0M1661.9 329.2h0M1661.2 329.4h0M1667.9 330.4h0M1673.1 329.1h0M1678.7 329.7h0M1682.7 330.1h0M1689.5 331.0h0M1696.6 329.5h0M1696.7 329.8h0M1712.8 330.9h0M1715.9 329.4h0M1714.8 329.8h0M1720.4 330.0h0M1720.9 330.0h0M1722.0 330.0h0M1737.1 329.6h0M1740.2 330.2h0M1755.3 330.1h0M1755.3 329.9h0M1758.7 329.0h0M1763.3 330.1h0M1765.2 329.4h0M1767.9 329.6h0M1779.2 330.0h0M1783.5 330.8h0M1790.4 329.8h0M1793.5 330.7h0M1624.0 331.1h0M1628.3 331.6h0M1633.8 331.2h0M1635.2 332.1h0M1638.6 331.7h0M1641.5 332.1h0M1643.9 331.5h0M1643.8 332.2h0M1648.5 331.8h0M1651.9 331.9h0M1654.7 331.4h0M1660.8 332.0h0M1662.0 331.1h0M1667.3 331.8h0M1666.9 331.4h0M1675.2 331.8h0M1678.0 331.6h0M1681.8 331.1h0M1685.9 331.1h0M1694.0 331.5h0M1693.0 332.0h0M1698.4 331.8h0M1699.0 331.8h0M1705.1 332.8h0M1712.5 331.5h0M1714.7 332.4h0M1714.4 332.1h0M1717.5 331.6h0M1723.9 332.9h0M1734.5 331.3h0M1739.9 331.7h0M1738.5 332.3h0M1742.3 332.9h0M1748.9 333.0h0M1762.1 331.4h0M1767.6 332.0h0M1768.6 332.3h0M1768.6 331.9h0M1777.1 331.2h0M1776.7 331.6h0M1781.9 332.2h0M1789.1 331.2h0M1797.9 331.9h0M1800.6 332.4h0M1823.3 332.2h0M1832.2 331.7h0M1620.9 334.6h0M1620.6 334.8h0M1630.4 334.4h0M1636.7 333.6h0M1636.7 333.9h0M1639.7 333.0h0M1641.2 333.9h0M1641.2 334.1h0M1647.8 334.9h0M1651.3 334.5h0M1657.3 334.6h0M1663.8 335.0h0M1664.6 333.7h0M1666.8 333.7h0M1666.9 334.9h0M1668.1 333.3h0M1671.4 334.3h0M1672.1 333.3h0M1678.4 333.1h0M1682.1 334.9h0M1685.4 333.9h0M1687.8 333.6h0M1689.4 333.3h0M1688.2 334.8h0M1688.2 334.6h0M1690.0 334.9h0M1693.3 334.8h0M1693.3 334.6h0M1692.9 334.5h0M1700.9 333.8h0M1702.0 333.1h0M1703.4 334.5h0M1709.7 333.6h0M1712.4 334.4h0M1715.8 334.7h0M1717.1 333.8h0M1719.1 334.8h0M1734.1 333.0h0M1740.6 333.6h0M1767.5 334.9h0M1769.4 333.7h0M1769.8 334.0h0M1772.4 334.0h0M1788.9 334.3h0M1796.0 333.0h0M1803.9 334.4h0M1817.4 333.1h0M1830.5 333.0h0M1851.3 335.0h0M1617.4 335.7h0M1616.2 336.3h0M1621.6 336.5h0M1622.4 335.0h0M1622.6 336.3h0M1651.1 335.5h0M1655.2 335.0h0M1655.1 336.2h0M1661.2 335.5h0M1662.2 336.1h0M1677.1 335.5h0M1676.1 336.7h0M1678.3 336.2h0M1687.8 335.7h0M1688.5 335.5h0M1693.2 336.3h0M1699.8 335.5h0M1704.7 336.0h0M1709.8 336.3h0M1712.0 335.3h0M1714.1 336.6h0M1718.5 335.6h0M1720.8 336.8h0M1726.3 335.3h0M1728.8 335.1h0M1734.0 336.5h0M1733.0 337.0h0M1736.7 336.7h0M1739.6 336.0h0M1738.9 335.1h0M1755.1 335.8h0M1760.4 335.3h0M1768.4 335.9h0M1769.3 336.6h0M1768.3 336.3h0M1774.4 336.3h0M1776.6 335.6h0M1780.0 336.7h0M1780.0 335.6h0M1781.1 335.9h0M1787.7 335.3h0M1804.1 335.5h0M1805.3 336.5h0M1813.1 335.7h0M1818.9 336.9h0M1824.2 336.7h0M1618.5 337.7h0M1621.5 338.7h0M1623.9 338.0h0M1622.3 338.0h0M1627.9 337.4h0M1627.5 338.3h0M1628.6 337.4h0M1631.3 339.0h0M1630.3 338.3h0M1631.7 337.5h0M1631.1 338.1h0M1633.6 337.2h0M1632.4 338.9h0M1633.4 338.2h0M1640.5 337.3h0M1647.1 337.1h0M1650.0 337.7h0M1653.7 338.8h0M1656.9 337.9h0M1659.1 337.5h0M1660.8 338.6h0M1663.6 338.2h0M1662.0 337.0h0M1662.6 338.4h0M1668.7 338.3h0M1676.5 338.1h0M1683.2 337.3h0M1682.5 337.6h0M1685.1 337.2h0M1686.8 338.7h0M1692.7 338.8h0M1695.8 337.2h0M1701.4 338.9h0M1704.7 338.4h0M1707.5 337.2h0M1707.7 337.1h0M1717.9 337.8h0M1721.0 338.5h0M1724.8 338.2h0M1728.1 337.1h0M1737.8 337.2h0M1738.7 338.9h0M1741.7 337.5h0M1741.4 337.0h0M1741.7 337.3h0M1743.6 338.0h0M1746.9 337.8h0M1763.2 337.2h0M1767.9 337.9h0M1771.5 338.3h0M1774.0 338.0h0M1777.8 337.1h0M1779.7 337.0h0M1807.7 337.9h0M1819.0 338.2h0M1826.9 337.6h0M1830.3 337.9h0M1832.2 338.3h0M1620.5 339.1h0M1626.3 341.0h0M1629.2 340.1h0M1635.0 339.1h0M1635.5 340.8h0M1641.6 339.4h0M1643.9 340.6h0M1646.7 339.3h0M1646.7 339.5h0M1648.8 339.1h0M1655.3 340.0h0M1657.1 340.0h0M1661.5 339.5h0M1660.7 339.9h0M1662.6 339.6h0M1662.3 339.2h0M1663.9 339.4h0M1666.4 340.0h0M1667.6 340.5h0M1669.2 340.9h0M1669.5 339.5h0M1668.4 340.3h0M1674.2 340.2h0M1674.5 339.9h0M1679.8 340.4h0M1680.0 340.4h0M1678.7 340.2h0M1683.4 339.7h0M1687.7 340.6h0M1695.9 339.5h0M1697.9 339.9h0M1698.6 339.4h0M1701.6 339.2h0M1706.5 339.7h0M1708.2 340.0h0M1708.2 339.7h0M1711.5 339.4h0M1716.2 339.7h0M1717.9 340.5h0M1720.8 339.3h0M1735.2 339.4h0M1737.7 340.1h0M1739.8 340.6h0M1739.4 339.6h0M1739.4 340.5h0M1743.2 340.1h0M1744.5 339.7h0M1746.5 340.6h0M1750.4 339.1h0M1751.8 339.7h0M1754.4 340.8h0M1758.9 339.7h0M1758.0 339.8h0M1767.3 340.4h0M1790.5 339.9h0M1793.9 339.5h0M1792.4 339.8h0M1796.5 339.9h0M1809.5 339.4h0M1816.6 339.2h0M1823.8 340.6h0M1829.0 341.0h0M1862.6 339.3h0M1879.3 340.8h0M1624.3 341.1h0M1624.3 341.8h0M1629.8 342.2h0M1631.7 342.9h0M1632.0 342.8h0M1635.8 342.9h0M1636.2 342.5h0M1637.0 342.3h0M1638.5 342.9h0M1641.0 342.8h0M1644.0 342.8h0M1649.4 341.2h0M1650.5 342.9h0M1651.8 342.8h0M1651.8 342.7h0M1655.4 341.3h0M1659.6 341.8h0M1663.8 341.1h0M1672.0 342.4h0M1679.3 341.1h0M1679.3 341.1h0M1683.3 342.3h0M1682.7 342.0h0M1683.6 342.1h0M1685.2 341.6h0M1685.3 341.1h0M1686.5 341.6h0M1690.4 343.0h0M1694.1 342.1h0M1699.1 342.6h0M1698.8 341.8h0M1701.3 342.4h0M1709.3 342.2h0M1714.7 341.3h0M1719.4 343.0h0M1720.4 341.8h0M1725.7 341.8h0M1726.8 342.9h0M1729.0 341.6h0M1730.1 342.4h0M1732.8 342.2h0M1741.2 342.0h0M1744.1 341.8h0M1744.8 342.8h0M1744.3 342.5h0M1754.2 341.7h0M1760.7 341.1h0M1766.5 341.9h0M1777.7 342.8h0M1781.4 342.6h0M1790.8 342.7h0M1790.9 342.8h0M1799.7 341.4h0M1804.0 341.4h0M1817.7 342.5h0M1821.8 341.2h0M1829.5 341.3h0M1631.2 344.3h0M1635.0 344.1h0M1635.1 344.6h0M1638.1 344.5h0M1639.5 343.5h0M1639.8 343.5h0M1642.3 344.0h0M1651.3 343.1h0M1660.1 343.3h0M1662.9 344.5h0M1663.3 344.1h0M1663.4 344.7h0M1667.0 344.2h0M1667.1 345.0h0M1669.4 344.5h0M1672.0 343.7h0M1676.0 343.7h0M1681.4 344.5h0M1682.9 343.9h0M1684.4 344.8h0M1687.7 344.3h0M1689.2 344.9h0M1691.5 343.8h0M1692.9 343.9h0M1701.9 344.8h0M1703.2 344.8h0M1710.5 345.0h0M1715.9 344.9h0M1718.1 344.2h0M1721.5 344.9h0M1725.1 343.4h0M1726.7 343.7h0M1726.6 344.5h0M1728.1 344.7h0M1729.6 344.8h0M1731.9 344.1h0M1735.2 343.4h0M1734.7 344.9h0M1738.9 344.4h0M1745.0 343.5h0M1750.6 343.2h0M1753.9 344.1h0M1753.1 344.4h0M1752.4 344.6h0M1752.5 344.0h0M1754.0 344.3h0M1755.2 344.0h0M1757.5 343.5h0M1759.6 344.5h0M1761.3 344.4h0M1761.1 343.4h0M1762.5 343.3h0M1762.4 343.3h0M1764.0 344.2h0M1762.9 344.8h0M1769.8 344.5h0M1775.9 345.0h0M1785.9 343.6h0M1790.9 344.4h0M1793.3 344.6h0M1794.0 344.0h0M1796.7 343.0h0M1803.1 345.0h0M1806.8 344.6h0M1810.2 344.9h0M1846.1 344.3h0M1626.3 346.5h0M1632.4 346.2h0M1636.8 345.1h0M1638.9 346.0h0M1641.2 345.3h0M1643.8 345.8h0M1642.7 346.7h0M1645.8 346.6h0M1646.5 346.8h0M1646.2 346.5h0M1647.9 346.9h0M1660.1 345.2h0M1661.4 345.8h0M1666.6 345.6h0M1668.7 346.3h0M1671.0 345.3h0M1671.0 346.8h0M1673.2 346.8h0M1674.9 346.5h0M1676.8 346.5h0M1681.8 345.0h0M1686.0 345.0h0M1686.0 346.6h0M1689.4 345.2h0M1693.2 347.0h0M1692.1 345.7h0M1694.4 346.4h0M1694.6 346.6h0M1694.3 346.3h0M1697.1 345.5h0M1703.0 345.2h0M1704.3 346.7h0M1708.8 346.7h0M1720.2 346.1h0M1728.0 346.8h0M1727.8 346.6h0M1731.4 347.0h0M1737.2 345.4h0M1737.3 346.6h0M1737.8 346.7h0M1738.6 346.7h0M1741.2 346.4h0M1754.0 346.7h0M1763.2 345.3h0M1766.3 345.0h0M1767.9 345.6h0M1768.6 346.2h0M1773.4 346.0h0M1776.0 346.2h0M1774.5 345.1h0M1781.6 345.1h0M1783.8 346.2h0M1783.8 346.3h0M1782.1 345.3h0M1785.6 345.5h0M1793.3 346.4h0M1795.8 346.9h0M1796.9 346.8h0M1813.9 346.2h0M1825.2 346.9h0M1836.4 346.7h0M1837.0 346.9h0M1841.7 345.6h0M1841.8 346.3h0M1845.4 345.2h0M1844.6 346.7h0M1620.4 348.3h0M1620.0 348.5h0M1628.3 348.5h0M1630.5 348.5h0M1635.4 348.7h0M1635.5 347.0h0M1641.4 347.0h0M1646.9 347.4h0M1646.5 347.4h0M1647.7 348.7h0M1649.0 348.0h0M1649.0 347.4h0M1650.3 348.5h0M1653.4 347.3h0M1660.8 348.1h0M1666.7 348.5h0M1669.0 349.0h0M1670.7 348.2h0M1673.8 348.1h0M1675.5 347.7h0M1679.2 347.3h0M1685.8 348.6h0M1684.1 348.5h0M1686.9 348.8h0M1689.8 347.6h0M1688.8 347.9h0M1700.2 348.2h0M1700.1 347.9h0M1703.1 348.7h0M1709.4 348.4h0M1714.5 348.2h0M1714.2 347.9h0M1717.4 348.3h0M1719.3 348.1h0M1721.1 347.8h0M1720.2 348.8h0M1725.1 348.9h0M1724.5 347.6h0M1726.8 348.0h0M1730.9 348.7h0M1732.1 347.3h0M1737.4 348.5h0M1740.8 348.1h0M1744.3 348.5h0M1748.1 347.9h0M1749.6 347.3h0M1751.9 347.4h0M1752.4 348.2h0M1752.0 348.7h0M1766.5 348.5h0M1768.2 347.3h0M1769.6 347.1h0M1775.8 347.1h0M1779.8 347.9h0M1786.2 347.9h0M1797.0 349.0h0M1799.6 348.2h0M1804.1 347.9h0M1806.0 347.3h0M1808.1 348.4h0M1828.0 348.6h0M1830.2 347.2h0M1854.2 348.0h0M1625.2 350.5h0M1632.8 350.8h0M1633.7 350.5h0M1636.4 350.8h0M1641.6 349.9h0M1643.9 349.7h0M1642.2 349.7h0M1645.9 350.0h0M1645.0 350.7h0M1647.5 349.0h0M1646.4 350.2h0M1646.1 349.1h0M1651.6 350.1h0M1650.6 349.5h0M1651.2 349.1h0M1652.4 350.0h0M1657.8 350.5h0M1659.9 349.6h0M1658.8 350.0h0M1659.2 349.8h0M1661.0 350.0h0M1661.0 350.0h0M1669.1 349.1h0M1670.5 349.1h0M1672.9 349.8h0M1676.9 349.4h0M1677.5 349.2h0M1678.4 349.6h0M1683.1 349.2h0M1687.9 350.8h0M1689.2 349.3h0M1690.2 349.8h0M1695.7 350.2h0M1694.6 350.2h0M1695.8 350.4h0M1707.8 350.1h0M1710.1 350.4h0M1713.5 349.2h0M1712.1 350.9h0M1716.2 349.5h0M1716.6 349.4h0M1718.9 350.1h0M1718.2 349.4h0M1723.1 351.0h0M1725.1 349.6h0M1725.0 349.8h0M1727.4 349.3h0M1729.1 350.5h0M1737.0 349.3h0M1740.5 350.6h0M1740.4 349.1h0M1747.1 351.0h0M1747.0 350.8h0M1747.8 349.2h0M1747.1 349.2h0M1749.4 349.6h0M1750.0 349.3h0M1752.2 350.7h0M1753.3 350.9h0M1760.4 349.7h0M1769.9 349.5h0M1769.6 350.3h0M1768.4 349.9h0M1770.6 349.6h0M1771.3 349.4h0M1773.7 350.2h0M1774.9 350.1h0M1776.3 350.8h0M1777.7 349.1h0M1777.0 350.2h0M1783.4 350.6h0M1783.9 350.2h0M1782.8 350.7h0M1787.0 349.8h0M1794.6 349.8h0M1799.9 350.8h0M1800.2 349.3h0M1804.4 350.7h0M1808.2 349.3h0M1820.9 349.1h0M1835.5 349.3h0M1845.7 349.2h0M1845.9 350.4h0M1873.1 349.1h0M1620.9 351.4h0M1628.3 351.1h0M1633.4 351.3h0M1637.1 351.8h0M1638.4 351.2h0M1643.2 352.2h0M1644.5 351.8h0M1648.2 352.1h0M1649.5 352.9h0M1658.4 352.8h0M1658.0 352.9h0M1661.5 352.8h0M1661.7 352.4h0M1662.9 353.0h0M1669.9 351.9h0M1670.3 352.0h0M1670.5 352.7h0M1670.3 352.2h0M1674.5 352.9h0M1677.2 352.4h0M1677.1 351.7h0M1677.1 352.0h0M1680.8 352.2h0M1681.6 351.4h0M1681.9 351.4h0M1682.3 351.3h0M1688.9 352.8h0M1689.6 352.6h0M1691.8 351.2h0M1691.3 351.2h0M1695.0 351.5h0M1702.4 351.7h0M1704.1 353.0h0M1705.1 351.5h0M1706.1 352.7h0M1706.3 351.5h0M1707.1 351.8h0M1708.0 352.4h0M1709.5 351.4h0M1710.4 352.0h0M1710.9 351.8h0M1711.2 351.7h0M1713.6 352.8h0M1713.8 352.6h0M1717.6 351.9h0M1716.4 352.8h0M1720.0 351.1h0M1721.0 351.6h0M1725.4 351.3h0M1724.0 352.4h0M1726.9 352.7h0M1728.5 351.5h0M1731.9 352.5h0M1734.3 351.9h0M1740.6 351.5h0M1741.7 351.2h0M1743.8 351.9h0M1743.1 352.8h0M1745.1 352.5h0M1750.8 351.2h0M1753.5 352.8h0M1753.4 352.0h0M1757.2 352.5h0M1759.7 351.9h0M1758.4 351.6h0M1760.4 351.2h0M1766.5 352.6h0M1769.4 352.6h0M1777.4 352.0h0M1776.9 352.3h0M1779.7 351.2h0M1778.4 351.6h0M1784.0 352.5h0M1787.9 352.6h0M1786.0 351.0h0M1792.2 352.6h0M1799.4 351.8h0M1798.9 351.5h0M1801.4 352.2h0M1817.3 352.0h0M1820.3 351.7h0M1821.2 351.5h0M1829.2 351.3h0M1829.1 352.4h0M1830.8 352.0h0M1848.2 351.6h0M1637.9 353.7h0M1637.5 353.9h0M1639.1 354.5h0M1639.5 354.0h0M1639.4 353.1h0M1644.9 354.2h0M1648.8 353.9h0M1652.0 353.6h0M1652.6 353.1h0M1654.9 353.7h0M1655.1 353.4h0M1660.5 354.4h0M1660.5 353.7h0M1661.0 354.5h0M1665.9 354.3h0M1670.8 354.3h0M1673.1 353.5h0M1675.7 354.0h0M1679.3 354.8h0M1679.4 354.7h0M1682.0 353.7h0M1685.0 353.9h0M1684.5 354.4h0M1685.2 353.9h0M1688.1 354.1h0M1689.6 354.3h0M1692.6 354.7h0M1692.9 354.0h0M1694.1 354.3h0M1696.7 353.8h0M1696.1 354.0h0M1699.7 354.5h0M1705.3 354.0h0M1706.7 353.7h0M1710.2 353.7h0M1711.7 353.8h0M1714.4 353.1h0M1714.2 353.0h0M1715.4 354.2h0M1716.2 353.5h0M1716.1 354.4h0M1716.7 354.9h0M1725.2 353.5h0M1724.9 353.2h0M1726.7 354.9h0M1726.9 353.5h0M1727.2 354.8h0M1729.5 354.1h0M1734.9 353.2h0M1739.6 354.9h0M1738.1 354.0h0M1738.9 353.8h0M1748.3 353.9h0M1748.6 355.0h0M1750.4 354.7h0M1751.7 353.8h0M1751.5 353.3h0M1753.4 353.1h0M1754.7 353.3h0M1756.9 353.4h0M1763.3 353.9h0M1763.7 354.1h0M1767.9 354.8h0M1768.0 354.4h0M1769.1 354.5h0M1770.8 353.2h0M1774.4 353.6h0M1783.8 354.3h0M1789.8 353.6h0M1790.2 354.4h0M1790.6 353.3h0M1792.2 354.0h0M1794.3 354.7h0M1796.8 354.1h0M1797.6 353.8h0M1801.5 354.7h0M1800.4 354.0h0M1808.1 353.5h0M1808.8 353.8h0M1812.3 353.7h0M1826.1 354.5h0M1835.2 353.3h0M1845.6 354.8h0M1623.7 356.4h0M1631.7 357.0h0M1632.0 356.1h0M1635.2 355.1h0M1642.6 355.4h0M1645.5 356.3h0M1647.7 355.1h0M1647.5 355.3h0M1649.6 356.7h0M1651.4 355.5h0M1652.4 355.1h0M1653.0 355.3h0M1655.7 356.8h0M1657.4 355.7h0M1656.5 356.4h0M1658.2 356.0h0M1660.8 355.9h0M1660.5 356.3h0M1662.3 356.0h0M1666.5 356.0h0M1668.6 356.6h0M1670.6 356.5h0M1671.6 355.7h0M1672.3 356.3h0M1674.3 356.9h0M1678.2 356.9h0M1683.7 355.4h0M1682.1 355.5h0M1685.2 356.4h0M1686.9 355.0h0M1689.9 356.2h0M1688.9 355.7h0M1698.0 356.4h0M1698.9 356.4h0M1704.9 355.2h0M1708.6 356.9h0M1709.3 355.9h0M1713.6 355.8h0M1715.0 357.0h0M1714.6 356.3h0M1718.1 355.0h0M1720.0 355.3h0M1721.7 355.9h0M1725.5 356.0h0M1728.6 356.3h0M1732.2 355.2h0M1733.7 356.5h0M1732.5 355.8h0M1734.2 356.2h0M1741.3 355.5h0M1742.1 355.9h0M1744.3 355.3h0M1744.7 355.6h0M1744.3 355.5h0M1751.4 355.1h0M1750.9 355.8h0M1756.9 355.1h0M1757.2 355.1h0M1756.4 356.3h0M1758.4 355.3h0M1763.6 355.4h0M1766.8 356.2h0M1766.2 356.8h0M1766.4 355.4h0M1769.8 355.1h0M1768.6 356.4h0M1777.4 356.6h0M1778.3 355.1h0M1781.9 356.9h0M1784.9 356.4h0M1789.8 355.3h0M1806.9 355.1h0M1808.2 356.7h0M1817.8 355.4h0M1819.8 357.0h0M1821.5 355.8h0M1833.0 356.2h0M1867.1 355.4h0M1621.1 357.1h0M1623.9 358.3h0M1625.8 357.5h0M1628.1 358.6h0M1631.2 357.5h0M1633.5 358.7h0M1636.9 358.9h0M1642.9 357.9h0M1646.8 357.1h0M1648.3 358.1h0M1648.2 358.6h0M1650.6 357.1h0M1655.1 358.3h0M1656.8 357.9h0M1656.9 358.9h0M1660.3 357.9h0M1660.4 358.7h0M1664.0 358.1h0M1665.4 358.6h0M1669.6 357.2h0M1669.1 357.9h0M1671.4 358.4h0M1674.5 358.7h0M1681.3 357.7h0M1681.6 358.8h0M1681.1 358.3h0M1683.6 358.3h0M1686.5 358.5h0M1689.1 358.6h0M1689.0 358.4h0M1688.7 358.6h0M1693.9 358.4h0M1699.2 357.3h0M1699.2 358.4h0M1700.8 357.2h0M1701.8 358.3h0M1705.4 358.0h0M1708.1 357.9h0M1713.7 358.8h0M1714.4 358.9h0M1718.9 357.5h0M1721.2 357.6h0M1724.0 358.8h0M1722.4 358.3h0M1729.3 358.3h0M1729.3 357.7h0M1734.6 358.6h0M1737.4 357.1h0M1739.1 358.7h0M1740.6 358.5h0M1743.7 358.2h0M1746.5 358.7h0M1749.8 357.3h0M1751.8 357.6h0M1751.6 357.0h0M1753.3 357.4h0M1755.3 358.5h0M1757.7 358.4h0M1758.0 358.3h0M1759.6 358.6h0M1761.2 357.4h0M1762.6 357.7h0M1763.6 357.9h0M1767.9 357.2h0M1766.7 358.6h0M1771.8 357.7h0M1773.8 357.3h0M1777.4 358.3h0M1778.6 357.9h0M1781.7 357.7h0M1784.6 358.3h0M1789.5 357.1h0M1793.7 358.3h0M1794.7 358.4h0M1795.4 358.3h0M1801.3 358.6h0M1808.3 357.0h0M1812.4 357.6h0M1816.1 358.5h0M1817.3 358.4h0M1818.2 358.3h0M1820.8 358.6h0M1824.0 358.1h0M1826.5 358.0h0M1826.3 357.3h0M1829.8 358.5h0M1832.3 357.3h0M1842.1 358.3h0M1851.0 358.8h0M1629.6 360.2h0M1633.3 359.1h0M1643.0 360.0h0M1647.5 360.9h0M1646.8 359.7h0M1648.9 360.2h0M1650.8 359.9h0M1659.4 360.0h0M1664.0 359.8h0M1667.7 360.6h0M1668.0 359.1h0M1669.0 359.1h0M1669.8 359.0h0M1672.0 359.0h0M1673.6 359.2h0M1674.0 359.5h0M1676.0 360.5h0M1677.2 359.6h0M1678.0 360.6h0M1681.2 359.9h0M1682.4 359.6h0M1682.4 360.4h0M1682.7 360.1h0M1684.3 359.9h0M1685.7 360.8h0M1685.4 360.9h0M1688.3 360.8h0M1689.4 360.3h0M1688.8 360.4h0M1690.9 360.3h0M1690.3 360.0h0M1696.3 359.6h0M1697.9 359.5h0M1699.7 360.1h0M1699.1 359.7h0M1700.8 360.6h0M1701.8 360.5h0M1702.9 359.8h0M1709.0 359.4h0M1709.2 360.6h0M1714.8 360.2h0M1714.2 360.6h0M1716.0 360.6h0M1717.5 360.9h0M1720.0 359.6h0M1720.2 359.0h0M1722.7 360.3h0M1722.0 360.7h0M1723.1 361.0h0M1724.9 359.1h0M1726.2 360.0h0M1728.4 359.4h0M1728.8 360.0h0M1732.0 359.2h0M1732.4 359.5h0M1739.9 360.3h0M1739.9 359.1h0M1738.6 360.2h0M1743.6 359.2h0M1743.4 360.5h0M1744.5 360.7h0M1744.7 359.2h0M1745.4 359.2h0M1746.8 360.0h0M1749.8 360.1h0M1753.7 360.9h0M1756.5 360.2h0M1756.5 360.9h0M1757.2 360.5h0M1758.9 360.5h0M1759.3 359.2h0M1771.2 360.7h0M1774.0 359.7h0M1780.5 360.3h0M1788.9 360.4h0M1790.8 359.9h0M1791.5 360.9h0M1792.6 359.8h0M1796.6 360.9h0M1803.2 359.5h0M1803.4 360.9h0M1802.8 361.0h0M1804.6 360.4h0M1816.6 361.0h0M1820.3 359.2h0M1828.8 360.9h0M1895.7 360.2h0M1623.7 362.1h0M1630.8 362.5h0M1630.1 362.3h0M1636.4 361.7h0M1642.8 362.5h0M1653.0 362.2h0M1652.9 361.1h0M1657.5 362.2h0M1665.9 362.0h0M1667.4 361.0h0M1674.7 362.2h0M1676.7 361.8h0M1679.0 361.5h0M1679.4 362.8h0M1681.3 361.7h0M1680.4 361.6h0M1683.7 362.5h0M1685.7 362.3h0M1687.1 362.8h0M1688.7 362.0h0M1690.4 361.5h0M1692.0 362.5h0M1694.7 362.8h0M1698.0 361.6h0M1700.9 361.8h0M1705.3 361.3h0M1704.4 361.8h0M1713.8 362.8h0M1713.9 361.8h0M1715.3 362.2h0M1716.6 362.3h0M1724.4 361.3h0M1725.5 361.4h0M1730.5 361.2h0M1732.0 362.5h0M1733.3 361.2h0M1734.3 361.8h0M1736.5 361.5h0M1738.5 362.1h0M1740.7 361.8h0M1743.9 362.4h0M1749.1 362.4h0M1752.0 361.3h0M1750.9 361.7h0M1754.8 361.9h0M1759.3 361.4h0M1758.7 362.7h0M1759.8 362.0h0M1758.7 361.1h0M1763.8 361.2h0M1762.2 361.2h0M1765.0 361.8h0M1768.4 362.3h0M1771.9 362.3h0M1772.2 361.3h0M1777.0 362.5h0M1776.5 362.8h0M1777.4 361.8h0M1777.6 362.8h0M1780.5 362.9h0M1783.7 361.0h0M1789.0 361.6h0M1788.6 361.9h0M1793.1 362.1h0M1793.9 361.7h0M1792.5 362.8h0M1799.3 361.6h0M1810.1 363.0h0M1813.6 362.4h0M1814.7 362.5h0M1819.8 362.0h0M1824.2 362.6h0M1831.1 362.0h0M1842.1 362.6h0M1857.0 362.5h0M1861.4 361.1h0M1873.5 362.4h0M1883.9 362.2h0M1622.4 363.9h0M1632.2 364.4h0M1635.9 363.4h0M1635.0 363.9h0M1650.7 363.9h0M1653.8 363.6h0M1659.6 364.0h0M1659.0 364.5h0M1659.3 363.5h0M1661.5 363.7h0M1663.1 364.4h0M1662.0 364.2h0M1663.9 363.6h0M1662.9 364.0h0M1665.4 363.5h0M1665.0 364.3h0M1664.1 364.8h0M1666.9 364.6h0M1669.2 363.8h0M1669.6 363.2h0M1673.9 364.0h0M1673.9 363.4h0M1676.3 363.0h0M1676.2 364.4h0M1679.1 364.8h0M1678.1 363.4h0M1688.6 363.7h0M1688.6 363.8h0M1688.3 363.0h0M1691.3 364.4h0M1690.7 364.8h0M1691.3 363.2h0M1695.3 364.3h0M1696.0 363.9h0M1695.4 363.7h0M1697.5 363.2h0M1696.3 363.7h0M1700.0 364.7h0M1701.2 364.7h0M1700.4 364.0h0M1702.1 363.4h0M1702.4 364.8h0M1703.2 364.3h0M1705.3 363.2h0M1709.0 363.9h0M1715.5 364.3h0M1715.5 363.3h0M1716.7 364.8h0M1719.2 363.0h0M1719.0 363.3h0M1721.9 363.4h0M1722.2 363.5h0M1725.9 363.8h0M1728.7 364.1h0M1734.1 363.9h0M1737.1 363.7h0M1739.1 364.0h0M1739.3 363.7h0M1744.9 364.5h0M1748.9 363.6h0M1752.7 364.2h0M1757.9 363.3h0M1757.6 364.7h0M1760.9 363.6h0M1761.9 364.0h0M1764.7 364.9h0M1767.8 364.2h0M1769.8 364.5h0M1772.3 363.2h0M1772.8 364.5h0M1777.4 364.8h0M1777.7 364.8h0M1778.0 363.9h0M1781.8 364.0h0M1782.3 363.2h0M1791.7 363.6h0M1792.7 363.3h0M1795.4 363.1h0M1797.0 363.2h0M1796.5 363.2h0M1798.9 363.9h0M1807.5 364.5h0M1809.3 364.2h0M1808.5 364.6h0M1809.4 364.2h0M1810.6 364.1h0M1818.5 363.4h0M1818.7 363.1h0M1828.6 364.6h0M1834.9 364.3h0M1834.7 363.7h0M1838.3 364.6h0M1844.3 364.9h0M1857.5 363.9h0M1860.3 364.1h0M1860.9 364.5h0M1881.1 363.8h0M1630.5 366.1h0M1642.4 365.2h0M1642.2 365.3h0M1645.4 366.4h0M1648.5 365.1h0M1648.1 367.0h0M1648.6 366.7h0M1651.6 365.2h0M1654.6 365.2h0M1655.9 366.3h0M1659.8 366.7h0M1661.5 366.2h0M1662.7 365.2h0M1664.7 365.9h0M1666.8 366.3h0M1676.3 366.3h0M1679.9 367.0h0M1684.0 366.5h0M1687.5 366.0h0M1688.4 365.1h0M1689.5 365.2h0M1690.4 365.8h0M1691.3 366.9h0M1695.1 365.5h0M1694.1 366.8h0M1694.1 366.9h0M1694.5 365.5h0M1696.3 366.9h0M1699.8 366.0h0M1701.1 366.8h0M1702.1 365.9h0M1706.5 365.3h0M1709.1 366.7h0M1709.3 366.6h0M1711.3 365.8h0M1717.1 366.0h0M1719.2 366.7h0M1719.3 366.7h0M1721.2 366.7h0M1724.9 365.9h0M1728.9 366.6h0M1735.1 366.8h0M1736.5 365.1h0M1743.3 365.1h0M1742.5 366.7h0M1744.7 366.5h0M1746.9 366.4h0M1749.6 365.9h0M1750.9 365.2h0M1750.2 365.6h0M1751.0 365.1h0M1751.3 365.7h0M1755.9 365.9h0M1754.9 365.5h0M1757.5 366.7h0M1758.0 366.2h0M1765.5 366.7h0M1767.5 366.8h0M1766.4 366.5h0M1770.9 365.2h0M1776.7 365.5h0M1779.4 366.9h0M1780.0 366.3h0M1781.3 365.8h0M1782.5 366.0h0M1793.9 366.4h0M1792.4 366.4h0M1799.1 366.0h0M1804.1 365.7h0M1806.5 366.3h0M1806.9 365.4h0M1809.7 365.6h0M1808.7 366.3h0M1812.8 366.6h0M1812.5 365.1h0M1818.9 366.8h0M1825.5 365.5h0M1843.2 367.0h0M1854.4 366.3h0M1867.9 365.2h0M1875.4 365.6h0M1874.5 366.0h0M1618.5 368.3h0M1626.7 368.0h0M1634.7 367.2h0M1638.0 367.2h0M1640.8 368.9h0M1642.9 367.8h0M1642.0 367.2h0M1651.1 367.9h0M1652.7 368.2h0M1654.6 368.6h0M1658.8 368.9h0M1659.5 367.3h0M1660.8 369.0h0M1662.5 368.5h0M1663.6 367.8h0M1668.0 368.7h0M1667.0 368.0h0M1671.3 368.4h0M1671.2 367.1h0M1675.7 368.3h0M1680.9 367.6h0M1681.7 367.7h0M1685.7 367.3h0M1687.3 368.1h0M1688.7 368.4h0M1688.8 367.3h0M1692.0 367.6h0M1690.1 367.6h0M1691.9 368.5h0M1691.2 367.4h0M1693.9 367.1h0M1694.1 367.3h0M1694.9 368.4h0M1694.2 369.0h0M1696.1 367.1h0M1696.8 368.1h0M1698.6 367.6h0M1698.1 367.5h0M1705.7 368.3h0M1707.0 368.7h0M1708.8 367.7h0M1711.9 368.2h0M1711.6 368.9h0M1711.6 367.8h0M1711.2 367.7h0M1712.5 368.0h0M1714.8 367.7h0M1715.4 367.1h0M1716.0 368.1h0M1714.9 367.1h0M1716.3 368.9h0M1717.5 367.6h0M1719.6 367.5h0M1721.9 367.5h0M1721.3 367.6h0M1723.4 367.7h0M1723.9 367.4h0M1726.2 367.4h0M1730.8 368.3h0M1731.3 368.4h0M1733.8 368.0h0M1733.8 368.9h0M1735.0 368.2h0M1741.0 367.2h0M1741.4 368.9h0M1740.4 368.5h0M1740.1 367.0h0M1744.5 367.8h0M1750.6 367.4h0M1751.0 368.4h0M1755.5 367.3h0M1757.3 367.7h0M1758.3 368.0h0M1758.9 368.7h0M1763.9 368.4h0M1764.0 368.1h0M1763.0 368.5h0M1764.4 367.2h0M1765.9 368.2h0M1768.7 367.9h0M1768.8 367.6h0M1771.6 368.1h0M1771.1 368.8h0M1775.5 367.7h0M1774.7 368.8h0M1776.7 367.6h0M1776.6 367.6h0M1780.5 367.3h0M1781.1 367.9h0M1781.0 368.9h0M1780.5 368.8h0M1782.6 367.9h0M1782.0 367.8h0M1782.7 368.5h0M1784.4 367.5h0M1787.0 367.7h0M1791.1 368.5h0M1792.3 368.7h0M1795.6 368.5h0M1799.0 367.3h0M1801.1 368.2h0M1802.0 368.1h0M1802.6 368.4h0M1804.8 368.6h0M1804.7 368.9h0M1806.1 368.2h0M1810.0 367.4h0M1809.8 367.9h0M1815.5 368.3h0M1816.3 368.6h0M1820.4 368.8h0M1827.1 369.0h0M1831.1 368.8h0M1838.3 367.4h0M1842.4 368.1h0M1843.5 368.2h0M1623.8 370.1h0M1622.9 370.8h0M1627.4 369.2h0M1631.5 370.5h0M1634.4 370.4h0M1647.1 369.7h0M1649.5 370.2h0M1650.7 370.8h0M1669.3 370.0h0M1670.9 369.8h0M1678.5 370.1h0M1683.0 370.2h0M1683.7 369.2h0M1686.9 369.2h0M1690.1 369.9h0M1690.3 370.2h0M1694.1 370.3h0M1700.1 370.7h0M1702.3 369.7h0M1702.4 370.5h0M1702.1 370.1h0M1703.0 369.2h0M1705.8 370.2h0M1706.3 370.5h0M1707.6 370.6h0M1708.2 370.6h0M1711.1 369.1h0M1713.1 369.3h0M1713.9 369.1h0M1713.7 370.6h0M1715.7 370.4h0M1714.8 370.2h0M1722.7 370.5h0M1722.5 370.7h0M1725.0 370.6h0M1724.6 370.2h0M1726.0 369.3h0M1727.6 369.4h0M1729.8 369.6h0M1731.9 370.3h0M1731.3 369.0h0M1732.0 369.2h0M1735.3 369.3h0M1739.6 369.4h0M1744.8 369.7h0M1747.1 369.1h0M1749.9 369.3h0M1748.2 369.2h0M1754.9 370.4h0M1754.4 370.9h0M1764.6 370.8h0M1769.0 369.7h0M1769.3 370.2h0M1770.5 370.4h0M1770.8 370.1h0M1775.3 370.6h0M1775.0 371.0h0M1774.2 370.4h0M1774.9 370.5h0M1777.2 369.4h0M1778.8 370.8h0M1778.2 369.7h0M1779.8 369.7h0M1779.8 369.2h0M1780.6 370.4h0M1782.2 369.7h0M1783.2 370.5h0M1782.5 369.0h0M1785.1 370.6h0M1784.1 369.9h0M1784.9 369.5h0M1787.1 370.5h0M1789.6 370.8h0M1789.6 370.6h0M1789.8 369.2h0M1790.8 370.9h0M1790.3 369.5h0M1793.2 370.8h0M1793.2 369.8h0M1801.1 369.8h0M1802.2 370.1h0M1806.5 370.0h0M1808.5 369.2h0M1815.1 370.4h0M1831.8 370.8h0M1830.2 369.6h0M1846.0 370.5h0M1854.6 370.8h0M1858.9 369.5h0M1877.2 369.9h0M1884.3 369.7h0M1620.9 371.7h0M1625.8 372.5h0M1630.3 372.3h0M1645.0 371.1h0M1652.9 372.2h0M1655.9 371.7h0M1659.8 371.3h0M1658.9 371.6h0M1662.7 372.7h0M1668.5 373.0h0M1668.6 371.9h0M1669.9 372.3h0M1669.5 372.0h0M1671.8 371.7h0M1670.9 371.5h0M1673.5 371.6h0M1677.7 371.1h0M1676.0 372.8h0M1678.9 372.1h0M1678.1 371.2h0M1679.2 372.1h0M1682.5 372.4h0M1684.4 372.2h0M1687.8 371.2h0M1689.0 371.4h0M1689.9 371.7h0M1690.9 372.9h0M1690.4 371.9h0M1692.2 371.7h0M1693.1 371.7h0M1694.0 371.5h0M1694.8 371.3h0M1699.1 371.9h0M1699.7 371.8h0M1703.5 372.3h0M1702.6 371.4h0M1711.8 371.4h0M1711.3 372.7h0M1713.4 372.8h0M1715.7 371.1h0M1714.2 371.1h0M1716.1 372.6h0M1719.1 371.8h0M1719.0 372.5h0M1719.7 372.3h0M1724.0 372.4h0M1727.8 371.9h0M1729.3 372.2h0M1728.9 372.7h0M1731.5 372.5h0M1734.0 371.8h0M1737.0 372.3h0M1740.0 372.2h0M1740.6 372.7h0M1744.9 372.1h0M1746.3 372.1h0M1747.0 372.5h0M1748.8 371.0h0M1750.6 372.9h0M1751.5 372.5h0M1752.6 372.4h0M1755.0 372.5h0M1754.2 372.6h0M1755.7 371.1h0M1763.1 371.2h0M1764.8 371.9h0M1767.6 372.6h0M1766.8 372.2h0M1767.5 372.8h0M1768.4 372.1h0M1768.6 372.1h0M1770.2 371.2h0M1772.5 371.9h0M1772.9 371.6h0M1772.5 371.8h0M1774.7 372.7h0M1777.2 372.2h0M1778.2 372.3h0M1778.5 372.1h0M1783.7 372.6h0M1785.0 372.1h0M1784.1 371.8h0M1785.4 371.0h0M1787.5 371.5h0M1788.2 372.8h0M1790.8 372.2h0M1793.4 372.9h0M1792.5 372.7h0M1794.3 371.6h0M1799.9 371.4h0M1801.4 372.6h0M1800.5 372.2h0M1800.8 372.1h0M1802.5 371.8h0M1805.3 371.2h0M1815.9 371.4h0M1817.5 372.8h0M1817.0 372.5h0M1816.1 371.6h0M1818.7 371.4h0M1824.4 371.3h0M1825.8 371.6h0M1828.7 373.0h0M1838.6 371.9h0M1842.4 372.3h0M1855.2 372.7h0M1861.1 372.8h0M1888.9 371.1h0M1620.6 373.6h0M1621.9 373.3h0M1623.7 373.3h0M1622.9 373.0h0M1631.5 373.8h0M1630.9 374.4h0M1643.7 373.6h0M1643.8 375.0h0M1653.0 374.2h0M1655.3 373.7h0M1657.3 374.5h0M1659.7 374.4h0M1658.6 373.2h0M1661.1 373.5h0M1663.8 374.5h0M1662.8 373.9h0M1662.3 374.6h0M1669.5 374.7h0M1670.3 375.0h0M1670.2 373.3h0M1672.3 373.2h0M1673.8 373.6h0M1674.1 373.5h0M1675.5 373.4h0M1679.5 373.1h0M1681.9 373.2h0M1682.5 374.2h0M1688.5 374.0h0M1690.5 374.5h0M1692.6 373.1h0M1692.2 373.8h0M1699.7 374.1h0M1699.9 374.5h0M1707.9 374.2h0M1709.0 374.3h0M1711.8 373.1h0M1711.3 374.4h0M1710.9 374.0h0M1712.6 374.9h0M1713.9 374.3h0M1715.3 374.6h0M1715.5 373.4h0M1715.3 373.9h0M1716.3 374.8h0M1718.1 373.7h0M1719.2 373.1h0M1721.1 374.8h0M1722.6 373.9h0M1722.9 373.9h0M1725.8 374.2h0M1725.2 373.6h0M1727.6 374.3h0M1728.1 373.6h0M1729.1 374.9h0M1732.6 373.7h0M1733.1 373.0h0M1732.8 374.6h0M1737.6 373.5h0M1739.8 374.6h0M1739.6 373.9h0M1741.3 374.2h0M1741.7 374.1h0M1742.6 373.2h0M1742.7 374.7h0M1743.2 374.6h0M1744.9 374.3h0M1747.1 374.2h0M1747.3 373.6h0M1748.8 373.6h0M1751.3 374.5h0M1751.9 373.8h0M1753.6 374.8h0M1752.7 374.1h0M1755.6 374.9h0M1756.3 374.8h0M1756.9 374.6h0M1758.7 374.8h0M1760.0 374.7h0M1761.0 374.0h0M1760.1 373.6h0M1762.6 374.7h0M1766.0 374.0h0M1764.9 374.6h0M1773.2 373.8h0M1780.8 374.2h0M1781.7 375.0h0M1783.8 373.0h0M1785.9 374.6h0M1785.7 374.4h0M1785.4 374.3h0M1784.5 373.8h0M1788.4 373.6h0M1790.3 373.9h0M1791.4 373.2h0M1792.9 374.1h0M1796.6 373.3h0M1796.2 373.9h0M1800.7 374.0h0M1803.4 373.9h0M1805.1 373.3h0M1805.0 374.0h0M1805.6 373.9h0M1804.9 374.9h0M1809.6 374.1h0M1817.0 373.6h0M1826.4 373.3h0M1828.9 374.2h0M1834.3 374.7h0M1837.9 374.0h0M1843.7 374.0h0M1849.6 373.3h0M1850.4 373.7h0M1870.6 373.4h0M1623.3 376.2h0M1626.3 375.1h0M1631.2 376.9h0M1635.4 375.8h0M1640.0 376.3h0M1643.4 376.3h0M1646.4 375.0h0M1649.2 375.7h0M1649.7 376.9h0M1650.8 375.6h0M1651.5 375.1h0M1656.8 375.6h0M1657.8 376.2h0M1665.5 376.4h0M1668.0 375.3h0M1669.8 375.3h0M1668.9 376.4h0M1671.6 377.0h0M1673.5 376.0h0M1675.8 376.6h0M1677.4 375.0h0M1677.2 376.4h0M1677.3 375.4h0M1679.7 375.9h0M1679.3 376.2h0M1680.6 376.0h0M1680.0 376.7h0M1682.5 376.7h0M1685.3 375.9h0M1685.8 376.5h0M1687.7 375.1h0M1687.7 376.0h0M1687.3 376.9h0M1686.7 376.6h0M1693.4 375.6h0M1694.9 376.2h0M1696.6 375.4h0M1698.9 375.5h0M1703.5 375.5h0M1703.0 375.3h0M1702.8 375.0h0M1702.9 375.8h0M1702.8 375.9h0M1703.8 375.8h0M1704.5 376.4h0M1707.5 376.6h0M1708.9 375.8h0M1711.7 376.8h0M1714.0 375.4h0M1717.1 376.5h0M1716.2 375.6h0M1716.7 376.5h0M1719.1 376.2h0M1723.0 375.8h0M1723.2 376.6h0M1722.4 375.2h0M1726.3 376.0h0M1727.7 376.1h0M1729.7 376.1h0M1729.0 375.6h0M1731.9 376.7h0M1731.4 375.7h0M1730.3 375.6h0M1731.9 376.0h0M1733.1 376.1h0M1733.3 375.1h0M1732.2 376.1h0M1733.5 375.5h0M1739.9 376.6h0M1740.4 376.9h0M1740.7 375.1h0M1742.1 375.1h0M1743.5 375.4h0M1743.0 375.8h0M1751.7 376.0h0M1750.0 375.7h0M1753.9 375.2h0M1754.6 377.0h0M1757.9 375.5h0M1757.4 376.8h0M1760.8 375.3h0M1765.1 375.9h0M1766.8 375.4h0M1767.5 377.0h0M1766.3 375.5h0M1772.8 375.7h0M1780.2 376.4h0M1783.9 375.4h0M1784.1 376.0h0M1785.4 376.9h0M1786.4 375.3h0M1786.2 376.7h0M1793.3 376.3h0M1793.2 376.9h0M1795.4 376.3h0M1798.2 375.1h0M1799.0 376.6h0M1800.8 375.3h0M1801.3 375.3h0M1803.2 376.2h0M1806.5 375.7h0M1809.2 376.7h0M1811.7 376.5h0M1813.2 375.2h0M1812.5 375.1h0M1824.1 375.2h0M1825.7 376.7h0M1827.9 375.2h0M1827.6 376.2h0M1828.2 376.6h0M1837.3 376.1h0M1837.9 376.6h0M1840.0 375.5h0M1840.0 376.4h0M1846.3 375.0h0M1848.7 376.9h0M1854.7 376.3h0M1856.3 375.9h0M1859.0 375.4h0M1858.3 376.1h0M1863.5 375.6h0M1872.1 376.5h0M1622.2 377.6h0M1634.5 377.5h0M1639.2 377.8h0M1639.0 377.8h0M1642.6 378.0h0M1642.9 378.5h0M1645.4 377.5h0M1646.9 377.5h0M1648.6 378.7h0M1654.8 378.2h0M1656.3 377.6h0M1657.0 378.9h0M1664.0 378.0h0M1663.4 377.5h0M1665.0 377.4h0M1664.8 378.1h0M1665.0 378.2h0M1671.6 378.4h0M1671.2 377.9h0M1675.0 377.9h0M1675.1 378.3h0M1675.9 378.4h0M1674.4 378.6h0M1676.7 378.5h0M1676.8 378.9h0M1679.4 378.3h0M1680.9 377.9h0M1682.2 378.3h0M1684.7 378.0h0M1686.7 378.4h0M1691.3 378.3h0M1695.5 377.6h0M1694.5 377.9h0M1695.8 377.9h0M1699.8 377.8h0M1699.4 377.6h0M1698.8 378.2h0M1699.9 378.8h0M1698.3 377.7h0M1700.0 377.8h0M1701.1 378.8h0M1700.7 378.6h0M1702.8 378.6h0M1703.0 377.8h0M1709.7 377.9h0M1710.0 378.4h0M1712.8 377.1h0M1713.4 377.9h0M1721.2 377.7h0M1720.3 377.1h0M1723.3 377.6h0M1725.9 377.2h0M1726.2 378.5h0M1729.7 378.5h0M1728.6 377.4h0M1730.8 378.9h0M1736.7 377.0h0M1736.6 377.7h0M1742.0 377.3h0M1743.8 377.7h0M1745.7 378.7h0M1745.0 378.9h0M1746.4 377.8h0M1748.2 378.0h0M1750.0 378.3h0M1752.3 378.4h0M1752.3 377.5h0M1753.5 378.0h0M1755.6 378.7h0M1756.3 378.0h0M1757.1 377.7h0M1759.6 378.4h0M1764.8 378.6h0M1767.2 377.5h0M1768.1 377.2h0M1769.7 378.2h0M1770.5 378.8h0M1770.3 377.9h0M1771.4 377.2h0M1773.2 378.8h0M1773.8 379.0h0M1775.9 377.8h0M1777.7 378.1h0M1778.9 377.5h0M1779.1 377.8h0M1780.7 377.8h0M1780.9 378.5h0M1780.4 378.9h0M1781.1 377.8h0M1783.3 378.5h0M1782.3 377.9h0M1785.8 378.3h0M1784.4 377.5h0M1789.8 378.6h0M1788.8 377.9h0M1789.1 377.8h0M1788.8 378.5h0M1795.6 378.7h0M1798.3 378.9h0M1800.0 377.3h0M1804.0 377.7h0M1802.5 378.5h0M1804.3 377.7h0M1806.2 378.7h0M1806.4 378.5h0M1807.6 378.6h0M1806.2 377.4h0M1809.3 377.2h0M1808.9 377.8h0M1808.3 378.4h0M1810.5 378.8h0M1810.9 378.7h0M1810.2 377.2h0M1811.2 377.4h0M1814.2 377.4h0M1815.4 378.0h0M1816.1 378.2h0M1819.8 377.2h0M1820.2 378.9h0M1820.5 378.3h0M1831.5 377.7h0M1833.3 377.5h0M1839.4 377.3h0M1838.9 378.6h0M1841.5 378.4h0M1848.4 377.4h0M1859.3 377.7h0M1870.7 377.2h0M1880.2 378.4h0M1626.4 379.5h0M1630.9 379.3h0M1631.0 379.7h0M1634.6 379.9h0M1643.0 379.7h0M1646.3 380.4h0M1651.0 380.5h0M1657.9 379.6h0M1657.1 379.5h0M1656.5 380.9h0M1657.5 380.8h0M1667.4 381.0h0M1671.5 379.8h0M1671.9 380.9h0M1673.6 379.8h0M1672.4 380.0h0M1674.4 380.5h0M1676.7 379.4h0M1676.5 379.5h0M1685.3 380.4h0M1687.3 379.7h0M1686.8 379.8h0M1688.5 379.2h0M1691.5 380.3h0M1691.9 379.3h0M1693.2 379.2h0M1694.5 380.1h0M1695.5 379.2h0M1696.5 380.9h0M1697.3 379.5h0M1698.8 380.0h0M1698.3 380.1h0M1703.6 379.9h0M1702.6 381.0h0M1704.3 380.3h0M1704.0 379.5h0M1708.4 380.3h0M1708.5 380.6h0M1710.3 380.9h0M1714.0 379.7h0M1712.1 380.4h0M1713.9 380.2h0M1714.6 379.9h0M1714.5 380.2h0M1715.1 380.0h0M1716.0 380.5h0M1720.1 380.6h0M1723.7 379.6h0M1723.0 380.2h0M1723.4 379.3h0M1723.6 380.3h0M1722.9 380.9h0M1724.9 379.8h0M1725.3 380.0h0M1727.0 381.0h0M1729.4 379.3h0M1729.0 380.6h0M1728.8 379.1h0M1737.8 379.7h0M1737.3 379.8h0M1739.3 379.1h0M1738.8 380.5h0M1741.3 379.4h0M1742.5 379.5h0M1744.4 380.4h0M1744.9 379.2h0M1746.6 379.2h0M1746.4 379.5h0M1747.4 379.1h0M1749.8 379.1h0M1751.0 380.6h0M1755.3 380.3h0M1755.5 380.5h0M1756.0 380.8h0M1759.7 379.4h0M1758.1 379.6h0M1760.3 380.6h0M1761.7 379.3h0M1763.8 379.1h0M1763.6 379.7h0M1762.7 380.5h0M1762.6 379.1h0M1765.1 380.5h0M1764.2 380.0h0M1764.2 379.5h0M1767.7 379.7h0M1771.8 380.4h0M1773.2 379.5h0M1775.5 379.2h0M1774.5 379.7h0M1776.2 379.1h0M1776.3 379.8h0M1779.8 379.6h0M1778.4 379.5h0M1778.1 380.9h0M1783.3 380.3h0M1782.1 379.4h0M1786.6 380.4h0M1787.1 379.4h0M1791.0 379.9h0M1792.0 380.5h0M1797.6 379.2h0M1796.4 379.4h0M1796.0 380.8h0M1798.2 379.9h0M1805.5 379.4h0M1805.8 380.2h0M1809.5 380.1h0M1809.9 380.8h0M1812.8 379.4h0M1814.4 380.2h0M1823.8 379.6h0M1824.4 379.9h0M1826.7 379.5h0M1826.2 380.2h0M1829.4 379.0h0M1828.7 379.6h0M1833.8 379.3h0M1832.0 379.4h0M1837.3 380.7h0M1839.4 379.3h0M1846.1 379.6h0M1851.8 379.1h0M1858.9 380.2h0M1861.7 380.0h0M1866.4 379.9h0M1621.7 382.0h0M1629.4 382.4h0M1633.6 381.9h0M1634.9 382.2h0M1637.3 381.2h0M1636.6 381.9h0M1643.0 382.7h0M1645.0 382.7h0M1646.2 382.5h0M1646.5 382.8h0M1646.2 382.9h0M1653.9 381.6h0M1654.7 382.1h0M1654.1 381.9h0M1658.0 382.4h0M1659.3 381.3h0M1661.8 381.9h0M1662.9 381.6h0M1665.8 383.0h0M1666.8 382.7h0M1667.9 381.9h0M1682.9 382.8h0M1682.4 381.2h0M1682.2 382.5h0M1687.8 382.7h0M1686.2 381.2h0M1690.0 381.5h0M1688.5 381.6h0M1694.3 381.9h0M1702.0 382.6h0M1700.8 382.7h0M1704.8 381.8h0M1706.4 382.5h0M1707.7 382.8h0M1707.0 382.7h0M1709.6 381.0h0M1708.2 381.6h0M1708.5 382.7h0M1709.0 381.5h0M1711.1 382.2h0M1711.4 382.8h0M1712.2 382.8h0M1712.1 381.4h0M1713.7 381.7h0M1719.5 382.0h0M1718.6 382.4h0M1721.2 381.2h0M1729.7 382.5h0M1730.8 381.4h0M1730.1 381.3h0M1731.2 382.9h0M1733.2 382.5h0M1735.6 382.9h0M1737.3 381.5h0M1741.5 382.1h0M1741.2 383.0h0M1743.2 381.1h0M1746.6 382.9h0M1747.6 382.6h0M1748.3 382.2h0M1749.9 381.8h0M1751.2 383.0h0M1751.7 382.2h0M1753.4 382.5h0M1753.9 382.7h0M1752.2 381.9h0M1756.4 382.9h0M1759.5 382.4h0M1760.5 382.3h0M1765.9 381.0h0M1767.8 381.8h0M1768.7 382.6h0M1768.6 382.5h0M1774.2 382.4h0M1779.7 381.6h0M1780.7 381.9h0M1782.8 382.6h0M1782.3 381.6h0M1786.1 383.0h0M1788.7 381.9h0M1790.9 382.9h0M1794.7 382.1h0M1795.3 382.0h0M1799.1 382.4h0M1799.3 382.9h0M1801.3 382.9h0M1800.3 381.8h0M1800.0 382.9h0M1800.7 381.7h0M1802.8 381.1h0M1804.5 382.3h0M1804.4 382.5h0M1809.8 382.4h0M1811.7 381.6h0M1812.7 382.9h0M1813.7 382.6h0M1815.5 382.8h0M1814.9 381.4h0M1816.8 382.4h0M1825.0 382.8h0M1825.4 382.5h0M1827.3 381.6h0M1830.1 382.0h0M1843.2 381.7h0M1845.9 381.6h0M1860.9 381.6h0M1866.0 382.7h0M1869.5 381.0h0M1618.3 384.0h0M1621.9 384.9h0M1624.4 383.2h0M1635.7 384.3h0M1637.9 384.0h0M1640.6 383.2h0M1647.7 383.8h0M1651.7 384.3h0M1650.7 383.9h0M1655.3 384.8h0M1657.6 384.5h0M1659.1 384.9h0M1659.5 383.2h0M1659.5 384.5h0M1665.3 384.0h0M1675.7 383.6h0M1674.2 383.5h0M1677.8 383.9h0M1676.7 383.0h0M1677.3 384.6h0M1676.5 384.2h0M1682.8 384.6h0M1685.5 384.7h0M1684.0 384.3h0M1686.1 383.3h0M1689.9 383.5h0M1689.9 384.0h0M1688.7 383.2h0M1693.2 384.3h0M1693.4 383.6h0M1697.9 383.1h0M1697.5 384.9h0M1698.5 384.1h0M1701.6 384.0h0M1701.8 383.2h0M1712.4 383.0h0M1715.8 384.0h0M1716.8 384.1h0M1717.5 383.3h0M1719.0 384.2h0M1720.5 383.9h0M1721.0 383.9h0M1727.9 384.4h0M1727.8 384.0h0M1729.5 383.0h0M1731.8 383.8h0M1730.3 383.7h0M1731.1 383.5h0M1732.4 383.6h0M1732.4 383.7h0M1733.1 383.8h0M1735.3 384.8h0M1734.1 384.6h0M1735.3 384.8h0M1734.5 383.7h0M1736.8 384.4h0M1740.2 384.6h0M1740.7 384.6h0M1744.0 383.7h0M1742.7 384.9h0M1744.6 383.6h0M1744.4 384.9h0M1745.2 383.8h0M1746.9 384.4h0M1746.7 384.7h0M1746.3 383.5h0M1752.8 385.0h0M1752.6 383.9h0M1756.2 383.2h0M1758.9 383.3h0M1759.4 384.9h0M1759.1 384.6h0M1763.2 384.9h0M1762.4 383.0h0M1762.9 384.5h0M1764.1 384.0h0M1765.1 384.4h0M1767.5 383.8h0M1767.1 383.6h0M1767.3 383.2h0M1766.6 384.3h0M1768.7 384.9h0M1770.5 383.1h0M1773.2 384.1h0M1776.4 384.3h0M1777.3 383.6h0M1776.8 383.9h0M1778.4 384.3h0M1778.5 383.4h0M1780.2 384.6h0M1782.8 384.6h0M1784.6 384.9h0M1786.2 385.0h0M1787.6 384.9h0M1790.0 383.8h0M1796.0 384.4h0M1799.4 384.9h0M1800.2 383.4h0M1800.2 383.9h0M1811.2 384.1h0M1813.7 383.5h0M1817.5 384.0h0M1817.1 384.4h0M1817.4 383.4h0M1816.5 384.4h0M1819.2 384.5h0M1823.6 383.5h0M1826.8 383.5h0M1828.4 383.2h0M1835.8 383.9h0M1841.6 384.5h0M1846.4 385.0h0M1847.8 384.0h0M1849.5 384.0h0M1855.8 383.9h0M1629.6 386.5h0M1628.1 385.6h0M1638.5 386.1h0M1639.8 386.9h0M1643.2 385.5h0M1644.6 385.7h0M1645.2 386.8h0M1648.7 385.8h0M1649.3 386.2h0M1649.2 386.9h0M1651.0 385.6h0M1650.3 386.3h0M1652.6 385.0h0M1654.1 386.4h0M1669.5 385.7h0M1670.2 386.6h0M1671.8 386.1h0M1671.9 385.1h0M1670.2 385.9h0M1676.6 386.8h0M1678.8 386.5h0M1678.7 386.2h0M1680.1 385.0h0M1685.1 386.0h0M1686.6 385.6h0M1689.3 386.4h0M1690.8 385.4h0M1691.8 385.5h0M1692.1 385.4h0M1693.5 386.3h0M1695.6 386.6h0M1695.9 386.8h0M1696.1 385.3h0M1699.0 386.5h0M1702.4 386.1h0M1706.9 386.4h0M1708.9 385.6h0M1713.3 385.1h0M1713.0 385.9h0M1714.1 386.2h0M1715.5 386.9h0M1714.1 386.6h0M1715.4 386.7h0M1717.1 385.4h0M1718.4 385.5h0M1720.6 385.1h0M1722.6 385.8h0M1724.5 385.5h0M1724.3 386.1h0M1731.1 386.7h0M1733.1 385.2h0M1735.2 386.7h0M1737.8 386.0h0M1737.7 385.4h0M1738.0 386.3h0M1737.0 385.3h0M1737.6 385.7h0M1738.2 386.1h0M1741.7 385.9h0M1740.8 386.4h0M1747.4 386.9h0M1750.6 386.6h0M1751.2 386.6h0M1752.5 386.2h0M1753.9 386.2h0M1756.6 386.2h0M1758.5 385.4h0M1761.1 385.9h0M1761.7 385.8h0M1760.3 386.6h0M1761.0 385.7h0M1763.0 386.1h0M1766.0 385.9h0M1768.4 385.3h0M1769.6 385.9h0M1768.6 385.7h0M1775.6 385.9h0M1775.8 385.6h0M1777.3 386.8h0M1776.7 385.1h0M1779.5 387.0h0M1780.2 385.7h0M1783.0 386.8h0M1787.2 385.6h0M1788.7 385.5h0M1789.9 385.5h0M1803.7 385.6h0M1804.3 386.1h0M1806.4 385.3h0M1806.7 385.1h0M1808.8 385.5h0M1814.8 385.4h0M1819.1 387.0h0M1818.6 385.4h0M1823.9 385.4h0M1823.8 385.1h0M1824.2 385.7h0M1831.8 385.4h0M1833.5 386.9h0M1841.8 385.7h0M1843.1 385.2h0M1842.8 385.6h0M1842.1 385.4h0M1870.5 385.4h0M1872.9 385.3h0M1612.8 387.4h0M1622.7 388.9h0M1623.1 387.9h0M1632.2 388.3h0M1632.4 388.3h0M1637.7 387.3h0M1644.5 388.3h0M1652.9 387.2h0M1655.0 388.1h0M1654.1 388.0h0M1656.3 387.6h0M1658.2 387.8h0M1659.2 387.3h0M1658.0 387.5h0M1661.5 388.5h0M1660.4 387.1h0M1662.6 388.3h0M1680.0 387.1h0M1679.7 388.5h0M1683.4 387.7h0M1688.0 388.9h0M1691.2 388.2h0M1692.6 387.1h0M1697.7 387.5h0M1697.9 388.3h0M1697.2 388.6h0M1699.8 387.4h0M1698.9 387.8h0M1698.2 388.6h0M1706.6 387.3h0M1709.9 387.1h0M1708.8 387.0h0M1709.9 387.6h0M1712.5 387.4h0M1716.3 387.8h0M1717.6 387.3h0M1716.4 388.9h0M1716.6 388.1h0M1721.3 388.4h0M1722.0 387.6h0M1729.6 387.8h0M1729.6 388.9h0M1730.1 388.5h0M1735.9 387.0h0M1735.4 388.6h0M1739.0 387.4h0M1738.4 387.4h0M1741.8 387.8h0M1742.0 389.0h0M1742.1 388.8h0M1746.7 388.0h0M1749.4 388.1h0M1754.0 387.9h0M1755.8 387.6h0M1755.3 388.9h0M1754.4 388.8h0M1756.9 388.5h0M1759.6 388.3h0M1761.7 387.1h0M1760.1 387.3h0M1763.3 387.0h0M1767.3 387.7h0M1768.6 387.0h0M1770.8 388.3h0M1771.7 388.3h0M1775.5 388.4h0M1777.8 387.7h0M1778.7 388.6h0M1780.9 388.5h0M1785.1 387.9h0M1787.1 388.5h0M1791.6 387.4h0M1794.6 387.2h0M1795.0 388.3h0M1797.3 388.9h0M1796.2 387.2h0M1799.1 388.3h0M1798.3 387.4h0M1801.7 388.9h0M1805.9 387.2h0M1806.1 388.8h0M1806.5 388.8h0M1809.6 387.4h0M1810.4 388.2h0M1813.8 388.4h0M1816.2 387.2h0M1816.6 387.4h0M1820.9 388.3h0M1821.3 389.0h0M1822.8 387.8h0M1827.9 387.8h0M1827.7 388.3h0M1830.6 388.9h0M1833.0 387.3h0M1842.6 387.6h0M1844.2 387.5h0M1848.1 388.7h0M1856.0 387.8h0M1856.5 388.0h0M1864.7 388.5h0M1878.6 388.5h0M1632.0 389.1h0M1631.0 390.3h0M1635.0 390.9h0M1638.7 390.3h0M1641.8 389.9h0M1640.2 390.4h0M1647.5 390.6h0M1650.0 390.4h0M1653.1 389.5h0M1654.4 390.5h0M1660.2 390.8h0M1663.2 389.4h0M1662.8 389.0h0M1663.4 389.7h0M1663.1 390.5h0M1663.0 389.1h0M1665.8 390.7h0M1668.7 389.3h0M1668.5 389.5h0M1672.2 391.0h0M1674.9 389.6h0M1674.7 389.9h0M1675.6 389.8h0M1675.5 389.1h0M1680.6 390.0h0M1683.8 389.5h0M1686.3 389.0h0M1687.4 389.6h0M1688.9 390.9h0M1689.9 390.1h0M1689.7 389.6h0M1691.0 389.5h0M1691.4 390.4h0M1692.7 389.4h0M1694.4 390.7h0M1694.4 390.8h0M1697.1 389.0h0M1697.8 390.0h0M1699.7 390.8h0M1706.2 389.5h0M1709.9 390.5h0M1709.2 389.6h0M1711.1 389.9h0M1714.2 390.4h0M1717.5 389.9h0M1717.6 389.4h0M1718.3 389.6h0M1718.7 390.5h0M1721.3 390.4h0M1721.5 389.2h0M1720.4 389.8h0M1723.4 390.6h0M1727.0 390.0h0M1728.6 389.8h0M1732.8 389.4h0M1737.6 389.5h0M1739.2 389.4h0M1740.9 390.4h0M1743.0 390.7h0M1743.6 390.3h0M1743.8 390.4h0M1744.6 390.1h0M1747.5 389.2h0M1746.5 389.7h0M1751.2 390.4h0M1752.7 390.8h0M1754.5 390.2h0M1757.1 390.1h0M1756.3 389.1h0M1761.9 389.7h0M1761.1 389.1h0M1760.7 390.4h0M1763.5 389.3h0M1765.4 391.0h0M1765.9 389.1h0M1767.6 389.8h0M1766.9 390.8h0M1768.5 389.5h0M1769.9 389.1h0M1773.0 389.9h0M1773.8 390.3h0M1773.8 390.0h0M1774.4 389.4h0M1776.0 389.9h0M1774.9 389.5h0M1775.3 390.7h0M1778.5 389.6h0M1779.4 390.9h0M1781.7 390.8h0M1780.5 390.7h0M1784.0 390.0h0M1787.7 389.4h0M1787.5 390.1h0M1786.2 389.2h0M1797.5 390.2h0M1799.4 389.0h0M1803.0 390.6h0M1804.4 390.4h0M1811.5 390.7h0M1811.5 390.5h0M1815.9 390.7h0M1818.0 389.2h0M1822.8 389.8h0M1829.6 389.3h0M1837.9 390.7h0M1838.2 390.2h0M1844.0 390.6h0M1853.2 390.1h0M1863.4 390.8h0M1866.2 389.1h0M1629.2 391.4h0M1630.0 391.2h0M1630.4 391.1h0M1630.3 392.3h0M1631.7 392.6h0M1637.2 392.4h0M1637.5 392.5h0M1647.6 391.9h0M1648.9 392.9h0M1650.3 391.4h0M1657.0 391.0h0M1661.4 391.1h0M1663.5 392.0h0M1668.5 391.8h0M1670.5 391.8h0M1672.4 391.9h0M1672.8 391.3h0M1676.7 391.8h0M1677.6 391.2h0M1688.3 392.2h0M1690.7 392.9h0M1691.2 391.4h0M1694.0 392.0h0M1694.3 391.9h0M1694.3 391.2h0M1700.5 391.3h0M1704.0 392.3h0M1702.8 391.8h0M1704.5 392.2h0M1704.5 392.5h0M1706.9 391.3h0M1706.4 391.5h0M1709.8 391.6h0M1711.2 392.8h0M1710.6 392.4h0M1710.6 393.0h0M1712.3 392.9h0M1715.4 392.9h0M1715.0 391.5h0M1716.3 392.9h0M1718.9 392.3h0M1723.8 391.7h0M1725.4 391.7h0M1730.2 391.2h0M1733.9 392.7h0M1732.4 392.5h0M1736.6 391.7h0M1737.8 392.6h0M1739.9 391.9h0M1740.1 391.6h0M1741.3 391.4h0M1743.2 391.9h0M1744.7 391.7h0M1744.3 391.1h0M1745.5 391.7h0M1749.6 392.2h0M1748.1 392.9h0M1751.9 391.0h0M1752.1 392.6h0M1756.7 393.0h0M1757.1 391.9h0M1758.7 392.3h0M1758.3 391.0h0M1760.9 392.1h0M1763.3 391.8h0M1762.7 392.2h0M1763.9 392.6h0M1762.5 392.4h0M1765.9 391.6h0M1765.4 391.1h0M1766.9 391.4h0M1770.9 391.5h0M1771.5 391.6h0M1771.0 392.1h0M1775.9 391.4h0M1777.6 391.2h0M1779.4 392.5h0M1778.5 392.8h0M1783.1 391.2h0M1785.9 393.0h0M1784.0 392.8h0M1787.6 393.0h0M1787.2 392.4h0M1786.2 393.0h0M1789.0 391.7h0M1797.0 392.1h0M1799.4 391.1h0M1798.3 392.7h0M1802.8 391.3h0M1805.8 391.1h0M1804.6 391.2h0M1807.9 392.8h0M1809.2 391.7h0M1809.2 392.7h0M1812.0 392.8h0M1812.4 392.9h0M1815.6 391.4h0M1821.0 392.5h0M1829.2 392.9h0M1834.4 392.7h0M1839.3 391.6h0M1840.9 391.7h0M1851.1 391.7h0M1865.6 391.9h0M1878.2 391.6h0M1895.0 392.8h0M1908.7 392.9h0M1630.6 394.0h0M1635.4 394.3h0M1636.2 394.1h0M1643.2 394.0h0M1645.4 393.1h0M1648.0 393.9h0M1654.2 393.0h0M1659.0 393.6h0M1660.0 394.8h0M1662.4 393.1h0M1665.8 393.9h0M1666.7 394.6h0M1668.9 393.0h0M1675.1 393.1h0M1678.9 393.3h0M1680.0 394.8h0M1683.8 394.2h0M1684.5 394.8h0M1684.7 394.6h0M1687.5 393.9h0M1686.4 393.6h0M1686.4 394.9h0M1693.4 394.5h0M1693.3 393.4h0M1697.6 394.5h0M1697.3 394.4h0M1697.9 394.1h0M1701.3 393.5h0M1705.9 393.6h0M1704.2 394.3h0M1707.5 394.1h0M1706.1 394.3h0M1707.8 393.6h0M1709.3 393.7h0M1710.8 394.0h0M1710.0 393.3h0M1712.5 394.2h0M1718.2 394.9h0M1721.4 393.6h0M1720.4 393.6h0M1723.3 393.5h0M1722.4 394.0h0M1724.4 394.1h0M1724.3 393.1h0M1726.2 394.8h0M1727.0 394.1h0M1729.8 393.8h0M1730.1 394.0h0M1733.7 394.4h0M1737.7 394.4h0M1737.9 393.3h0M1739.0 394.0h0M1741.0 393.0h0M1743.0 394.6h0M1744.2 394.4h0M1747.3 394.7h0M1747.9 393.7h0M1746.5 394.3h0M1748.2 393.4h0M1748.3 393.4h0M1748.3 393.5h0M1750.9 394.0h0M1750.5 394.0h0M1752.8 394.5h0M1755.1 394.5h0M1754.6 394.8h0M1754.6 393.7h0M1756.4 394.7h0M1757.8 394.4h0M1756.3 393.4h0M1757.9 393.2h0M1758.3 393.0h0M1758.6 393.5h0M1763.0 394.5h0M1764.6 393.6h0M1764.7 394.5h0M1764.8 394.0h0M1767.7 393.7h0M1767.4 394.2h0M1768.9 394.9h0M1773.1 394.4h0M1773.8 393.3h0M1775.0 393.5h0M1777.3 393.7h0M1776.3 393.1h0M1782.3 393.3h0M1784.0 393.5h0M1784.6 394.8h0M1786.8 394.2h0M1787.5 394.8h0M1786.6 394.3h0M1790.1 393.5h0M1795.2 393.6h0M1796.6 393.2h0M1802.6 393.2h0M1805.1 393.7h0M1812.5 394.1h0M1814.5 394.7h0M1817.7 393.1h0M1817.5 394.3h0M1817.6 393.0h0M1825.3 394.8h0M1826.7 393.8h0M1830.8 393.6h0M1837.5 393.5h0M1839.3 394.1h0M1843.9 394.4h0M1846.2 395.0h0M1850.4 393.0h0M1855.6 394.5h0M1860.3 393.4h0M1861.8 394.6h0M1863.5 393.9h0M1868.8 394.1h0M1871.2 393.8h0M1897.0 394.8h0M1625.5 396.5h0M1631.4 396.7h0M1638.1 396.7h0M1640.0 396.1h0M1640.7 396.8h0M1643.0 396.6h0M1649.9 396.7h0M1650.9 396.1h0M1657.9 396.0h0M1656.1 397.0h0M1663.2 396.1h0M1667.4 395.6h0M1668.9 395.3h0M1671.9 395.7h0M1672.0 396.2h0M1673.8 396.4h0M1672.8 396.4h0M1674.6 395.9h0M1678.7 396.7h0M1681.1 396.8h0M1681.2 396.6h0M1684.7 396.6h0M1686.1 395.9h0M1688.7 396.5h0M1690.4 395.1h0M1691.5 396.5h0M1693.2 396.8h0M1695.5 396.6h0M1696.4 395.5h0M1698.4 397.0h0M1699.3 396.1h0M1705.7 395.3h0M1708.8 395.1h0M1710.8 395.8h0M1713.0 395.3h0M1713.0 396.5h0M1714.2 396.5h0M1717.4 396.9h0M1719.2 395.3h0M1719.2 395.5h0M1721.6 396.0h0M1724.1 397.0h0M1725.5 395.3h0M1727.0 397.0h0M1728.9 396.4h0M1728.5 396.7h0M1731.0 396.2h0M1730.9 396.3h0M1736.4 396.4h0M1738.0 396.1h0M1738.5 395.8h0M1743.0 396.0h0M1743.1 395.5h0M1743.1 396.2h0M1744.9 395.5h0M1746.2 395.1h0M1750.6 397.0h0M1751.2 396.3h0M1754.7 395.8h0M1755.9 396.1h0M1755.3 396.1h0M1758.4 396.9h0M1761.5 396.3h0M1765.7 396.4h0M1765.1 396.7h0M1767.5 396.9h0M1766.9 395.7h0M1769.9 395.6h0M1770.3 396.4h0M1771.7 395.8h0M1770.4 396.5h0M1771.3 396.3h0M1774.0 395.5h0M1773.0 396.7h0M1773.0 396.7h0M1778.3 396.0h0M1787.1 396.1h0M1790.0 395.9h0M1793.5 395.0h0M1797.1 395.7h0M1797.2 395.3h0M1796.8 395.2h0M1799.6 395.6h0M1798.1 395.7h0M1803.6 396.3h0M1812.5 395.9h0M1816.2 396.4h0M1816.5 396.6h0M1820.2 395.9h0M1821.2 396.1h0M1821.5 395.5h0M1822.6 395.6h0M1823.0 396.4h0M1824.8 395.6h0M1826.3 396.6h0M1833.7 396.2h0M1840.7 395.2h0M1844.2 396.1h0M1847.7 396.8h0M1853.7 396.5h0M1858.6 396.9h0M1863.0 395.5h0M1622.0 398.9h0M1628.5 397.2h0M1628.3 399.0h0M1630.8 397.9h0M1633.8 398.0h0M1633.3 398.7h0M1642.1 397.9h0M1650.1 397.5h0M1655.8 397.8h0M1656.7 397.5h0M1658.6 398.9h0M1664.9 397.7h0M1668.1 398.2h0M1679.1 398.4h0M1684.1 397.0h0M1689.4 398.6h0M1689.5 398.4h0M1691.3 398.3h0M1691.4 397.4h0M1694.7 398.0h0M1696.8 397.9h0M1699.4 397.8h0M1699.6 397.2h0M1698.0 397.9h0M1703.3 398.4h0M1703.4 399.0h0M1702.6 397.4h0M1708.5 397.1h0M1710.6 398.3h0M1710.8 397.7h0M1714.5 397.5h0M1716.7 397.5h0M1719.0 397.9h0M1724.0 397.1h0M1723.2 398.5h0M1722.7 397.2h0M1723.9 398.4h0M1722.2 397.2h0M1725.9 398.8h0M1725.5 397.5h0M1729.2 397.9h0M1730.5 398.8h0M1731.1 397.4h0M1730.7 398.2h0M1730.5 398.4h0M1733.5 397.2h0M1734.2 397.7h0M1734.9 398.8h0M1737.0 397.3h0M1742.3 397.2h0M1744.8 398.5h0M1746.2 398.1h0M1746.7 398.1h0M1748.8 397.9h0M1748.9 398.2h0M1749.6 397.6h0M1750.8 398.9h0M1752.2 398.1h0M1754.4 398.4h0M1754.9 398.3h0M1754.0 398.2h0M1758.8 397.8h0M1761.5 397.9h0M1762.6 398.0h0M1765.6 397.3h0M1764.4 397.4h0M1767.1 397.7h0M1767.7 397.7h0M1771.8 397.1h0M1770.8 397.5h0M1772.7 398.2h0M1772.6 398.9h0M1778.2 397.3h0M1778.4 397.6h0M1781.4 397.1h0M1787.1 397.4h0M1787.9 397.9h0M1786.3 397.1h0M1786.2 397.6h0M1789.7 397.7h0M1790.6 398.0h0M1793.5 398.0h0M1793.4 398.7h0M1794.7 397.6h0M1799.6 398.6h0M1799.2 398.6h0M1800.5 397.6h0M1803.2 399.0h0M1803.8 398.3h0M1806.5 398.5h0M1811.6 397.8h0M1810.5 398.5h0M1819.1 397.3h0M1818.2 398.7h0M1820.6 398.1h0M1821.3 397.8h0M1826.7 398.4h0M1831.8 398.2h0M1836.8 397.1h0M1842.0 398.8h0M1840.4 397.9h0M1846.0 398.3h0M1844.0 397.2h0M1861.3 398.6h0M1860.8 398.6h0M1873.2 398.9h0M1628.8 399.1h0M1628.8 399.8h0M1632.6 400.4h0M1633.0 400.8h0M1634.0 399.6h0M1637.2 400.2h0M1643.6 399.1h0M1655.9 399.3h0M1659.8 400.2h0M1661.3 399.5h0M1663.5 400.6h0M1665.9 399.3h0M1670.0 399.2h0M1670.2 399.3h0M1675.3 401.0h0M1677.8 399.5h0M1677.3 399.1h0M1678.3 399.3h0M1683.8 399.8h0M1687.6 400.6h0M1688.3 399.2h0M1695.4 399.9h0M1698.2 399.7h0M1698.1 399.1h0M1701.5 399.4h0M1700.7 400.9h0M1702.7 400.0h0M1707.8 400.6h0M1708.4 400.5h0M1708.3 400.9h0M1709.8 399.5h0M1710.6 400.3h0M1711.5 400.3h0M1716.5 399.4h0M1717.4 400.0h0M1723.2 399.4h0M1723.4 399.8h0M1725.9 399.0h0M1724.6 399.5h0M1725.8 400.3h0M1727.0 399.7h0M1726.5 399.9h0M1726.9 400.3h0M1731.7 399.7h0M1737.5 400.6h0M1736.7 399.2h0M1736.7 400.1h0M1738.1 399.3h0M1739.7 399.5h0M1742.3 400.1h0M1745.6 400.8h0M1746.4 399.4h0M1749.5 400.3h0M1749.8 400.2h0M1750.2 400.7h0M1751.4 400.1h0M1751.0 399.1h0M1755.3 400.2h0M1754.2 400.2h0M1757.7 400.2h0M1763.2 400.5h0M1766.9 400.2h0M1766.9 400.0h0M1769.2 399.1h0M1768.8 400.6h0M1768.0 400.6h0M1771.9 400.3h0M1772.2 399.8h0M1776.6 400.3h0M1776.8 400.4h0M1778.2 399.0h0M1779.0 399.7h0M1778.5 399.0h0M1782.4 400.2h0M1783.9 399.4h0M1785.1 400.7h0M1784.7 400.6h0M1787.3 400.2h0M1787.4 399.9h0M1790.1 400.1h0M1796.6 400.6h0M1796.9 399.6h0M1798.6 399.5h0M1801.6 399.1h0M1802.3 400.3h0M1803.5 400.6h0M1807.4 399.5h0M1811.8 400.3h0M1812.2 400.7h0M1815.6 399.2h0M1814.6 399.8h0M1817.4 400.9h0M1818.6 400.5h0M1821.5 400.2h0M1820.6 400.0h0M1820.8 400.7h0M1822.8 399.9h0M1824.1 400.9h0M1826.4 400.8h0M1833.6 400.0h0M1834.7 399.5h0M1839.6 400.1h0M1839.6 400.1h0M1841.6 400.0h0M1844.2 400.2h0M1851.6 400.9h0M1856.0 400.7h0M1854.5 400.6h0M1860.4 399.5h0M1870.9 400.5h0M1870.4 400.4h0M1887.8 400.8h0M1624.3 401.9h0M1629.9 402.9h0M1631.7 401.8h0M1637.6 401.2h0M1637.7 401.5h0M1643.4 402.8h0M1649.9 402.9h0M1649.5 401.3h0M1650.5 401.0h0M1654.5 402.1h0M1660.9 402.9h0M1663.2 401.7h0M1668.6 401.1h0M1671.8 402.6h0M1675.7 401.9h0M1674.6 402.9h0M1674.8 402.4h0M1676.6 401.5h0M1677.3 402.2h0M1679.5 402.2h0M1680.7 401.5h0M1684.1 402.8h0M1685.4 401.5h0M1688.4 402.0h0M1689.2 401.3h0M1691.6 401.8h0M1694.2 401.2h0M1696.0 401.1h0M1696.0 402.2h0M1709.0 401.6h0M1714.4 402.8h0M1719.2 402.8h0M1719.8 403.0h0M1725.4 402.7h0M1724.1 402.2h0M1726.5 401.9h0M1728.0 402.4h0M1728.3 402.9h0M1730.9 402.3h0M1731.8 402.6h0M1732.6 402.5h0M1732.2 401.5h0M1735.7 402.3h0M1738.4 401.9h0M1739.3 401.1h0M1744.3 402.3h0M1747.8 401.4h0M1753.1 402.1h0M1755.9 402.2h0M1756.7 402.4h0M1759.4 402.7h0M1760.1 401.8h0M1761.6 402.9h0M1761.7 402.3h0M1762.3 401.9h0M1763.6 401.3h0M1762.3 402.6h0M1764.8 401.5h0M1765.3 402.9h0M1768.7 401.6h0M1769.5 402.3h0M1771.0 402.8h0M1771.9 401.6h0M1777.2 401.7h0M1778.4 402.7h0M1781.7 401.5h0M1789.3 402.4h0M1790.0 402.4h0M1795.5 401.4h0M1797.3 402.6h0M1797.0 402.3h0M1800.7 402.9h0M1803.1 401.9h0M1805.8 402.4h0M1805.7 402.9h0M1808.8 402.7h0M1812.4 401.3h0M1813.1 402.6h0M1814.4 402.0h0M1818.6 401.5h0M1818.5 401.8h0M1822.0 402.4h0M1820.1 401.8h0M1825.6 402.9h0M1824.3 401.8h0M1826.6 402.9h0M1829.9 401.5h0M1835.3 401.9h0M1836.4 401.1h0M1839.0 402.5h0M1841.2 402.2h0M1842.6 401.2h0M1848.5 402.0h0M1853.0 401.1h0M1852.9 402.5h0M1859.8 402.1h0M1866.4 401.7h0M1613.7 404.6h0M1636.1 404.5h0M1636.2 404.3h0M1643.1 403.9h0M1643.0 403.8h0M1646.7 404.6h0M1648.8 403.9h0M1652.1 404.9h0M1654.2 404.3h0M1654.9 403.0h0M1658.7 404.6h0M1660.2 403.1h0M1667.9 403.3h0M1671.7 403.4h0M1671.7 403.6h0M1675.6 404.8h0M1676.5 403.1h0M1677.5 403.9h0M1680.7 403.0h0M1691.2 404.8h0M1690.6 403.8h0M1693.1 403.7h0M1700.0 403.8h0M1699.3 404.2h0M1703.3 404.1h0M1702.7 403.7h0M1703.9 404.1h0M1708.7 403.5h0M1708.9 404.6h0M1709.2 404.7h0M1713.9 403.8h0M1717.0 404.8h0M1717.3 403.4h0M1719.3 404.7h0M1723.3 404.9h0M1724.5 403.9h0M1727.8 403.7h0M1726.5 404.5h0M1729.0 403.9h0M1731.3 404.5h0M1730.6 403.0h0M1731.2 404.8h0M1733.5 404.6h0M1733.7 404.9h0M1735.1 403.3h0M1735.9 404.3h0M1735.9 405.0h0M1737.2 403.5h0M1737.4 403.8h0M1736.5 404.7h0M1739.4 404.2h0M1740.5 404.2h0M1742.2 404.0h0M1742.5 403.2h0M1743.2 404.2h0M1744.0 403.2h0M1742.5 403.4h0M1745.9 403.0h0M1746.5 404.9h0M1749.3 403.4h0M1750.4 403.8h0M1751.4 403.1h0M1752.0 403.6h0M1752.4 403.2h0M1753.9 404.3h0M1755.7 403.8h0M1755.5 403.6h0M1755.3 403.1h0M1755.2 404.8h0M1756.8 403.9h0M1757.2 403.9h0M1759.0 403.9h0M1760.4 404.5h0M1760.0 403.3h0M1760.1 404.8h0M1763.5 403.5h0M1762.9 404.2h0M1765.8 404.4h0M1765.3 404.1h0M1771.7 404.1h0M1772.0 404.1h0M1773.3 403.6h0M1778.0 404.1h0M1776.5 403.9h0M1784.9 403.1h0M1784.7 404.5h0M1789.6 404.4h0M1789.7 403.2h0M1789.1 404.9h0M1792.5 404.7h0M1793.6 404.0h0M1794.4 403.5h0M1797.0 403.5h0M1797.2 403.7h0M1797.9 404.5h0M1797.9 404.7h0M1797.5 404.7h0M1801.6 403.0h0M1802.6 403.0h0M1803.6 403.3h0M1802.6 403.4h0M1808.0 405.0h0M1819.1 404.9h0M1829.7 403.5h0M1829.8 404.0h0M1832.0 404.4h0M1832.7 403.4h0M1838.4 404.8h0M1842.9 403.3h0M1853.4 404.2h0M1866.9 403.0h0M1867.2 404.4h0M1647.3 406.5h0M1647.7 405.5h0M1651.1 405.4h0M1657.9 406.0h0M1656.3 405.5h0M1659.9 405.2h0M1658.1 405.3h0M1658.0 407.0h0M1661.8 405.9h0M1668.9 406.5h0M1669.3 405.3h0M1673.1 405.7h0M1673.8 406.0h0M1676.7 405.6h0M1677.2 405.6h0M1678.6 405.7h0M1678.0 405.7h0M1685.4 405.0h0M1686.1 405.4h0M1689.7 406.6h0M1690.3 406.0h0M1692.4 405.1h0M1694.7 405.3h0M1701.8 406.7h0M1704.8 405.6h0M1704.9 406.4h0M1704.9 406.1h0M1704.9 406.1h0M1707.1 406.9h0M1707.0 406.7h0M1706.4 405.9h0M1706.1 405.4h0M1708.6 406.4h0M1708.0 405.3h0M1712.6 406.5h0M1716.2 405.1h0M1717.5 406.8h0M1719.7 405.9h0M1719.3 405.3h0M1718.0 406.9h0M1729.6 405.5h0M1731.2 405.0h0M1730.7 406.8h0M1731.4 406.4h0M1732.5 406.2h0M1733.5 406.2h0M1735.7 406.8h0M1735.9 405.3h0M1734.1 406.1h0M1736.2 406.9h0M1739.6 406.0h0M1746.1 406.5h0M1746.6 405.1h0M1748.3 407.0h0M1749.5 406.4h0M1750.4 406.5h0M1752.6 406.1h0M1752.7 406.8h0M1753.5 406.6h0M1755.4 406.6h0M1755.3 405.8h0M1757.6 405.3h0M1756.1 405.5h0M1756.3 405.6h0M1757.7 405.9h0M1757.4 406.7h0M1758.3 405.2h0M1761.2 406.0h0M1760.6 405.2h0M1761.6 406.2h0M1761.9 406.9h0M1761.4 406.5h0M1765.8 405.9h0M1767.8 406.1h0M1769.9 405.7h0M1771.9 406.3h0M1772.1 406.2h0M1772.1 406.4h0M1774.1 406.9h0M1775.0 405.4h0M1776.7 405.8h0M1779.2 405.8h0M1780.8 406.4h0M1782.2 405.1h0M1782.7 407.0h0M1787.9 406.5h0M1789.8 405.5h0M1793.4 405.8h0M1794.8 405.4h0M1799.9 406.6h0M1801.4 406.2h0M1805.8 406.0h0M1805.7 406.6h0M1811.0 406.8h0M1811.0 406.4h0M1812.3 405.5h0M1815.1 405.5h0M1826.8 405.2h0M1838.7 405.2h0M1845.4 406.7h0M1845.4 405.0h0M1847.6 406.8h0M1855.2 406.2h0M1864.0 406.1h0M1878.6 406.9h0M1893.9 406.2h0M1630.5 407.3h0M1638.1 408.9h0M1646.5 407.7h0M1647.0 408.4h0M1655.1 408.7h0M1661.3 407.8h0M1660.0 408.4h0M1665.5 407.4h0M1664.3 407.0h0M1665.3 408.2h0M1665.3 408.6h0M1667.6 407.5h0M1668.8 408.8h0M1670.1 408.2h0M1672.9 408.8h0M1675.2 408.7h0M1678.9 407.1h0M1684.3 408.3h0M1684.4 408.4h0M1686.7 407.6h0M1688.7 408.2h0M1691.0 409.0h0M1695.7 408.6h0M1696.3 407.1h0M1696.1 408.2h0M1699.2 407.7h0M1710.5 408.8h0M1712.7 407.1h0M1713.3 407.8h0M1716.3 408.9h0M1718.2 407.5h0M1719.3 408.5h0M1718.7 407.4h0M1720.4 407.8h0M1722.7 407.3h0M1723.0 408.2h0M1725.6 408.5h0M1726.2 407.8h0M1727.7 408.3h0M1727.9 408.4h0M1731.1 408.3h0M1732.5 408.2h0M1735.4 408.1h0M1736.1 408.2h0M1741.2 407.2h0M1748.1 408.8h0M1748.9 407.4h0M1753.3 408.1h0M1755.2 408.8h0M1757.5 408.9h0M1757.1 407.6h0M1759.6 407.6h0M1759.9 408.5h0M1761.4 407.5h0M1762.0 407.9h0M1761.0 408.7h0M1763.2 408.0h0M1762.3 407.3h0M1762.2 408.6h0M1764.2 408.1h0M1765.1 407.5h0M1767.0 407.4h0M1768.3 408.6h0M1771.8 407.3h0M1770.9 407.2h0M1773.4 408.9h0M1774.3 407.9h0M1775.1 408.3h0M1776.8 407.7h0M1777.1 408.8h0M1781.3 407.9h0M1781.3 408.7h0M1782.2 407.7h0M1784.0 408.6h0M1784.6 407.3h0M1786.4 407.9h0M1787.5 407.1h0M1788.3 408.6h0M1788.5 407.2h0M1788.1 407.8h0M1792.4 407.9h0M1794.5 407.1h0M1797.1 407.6h0M1796.6 408.0h0M1800.8 408.0h0M1803.9 408.3h0M1807.7 407.6h0M1810.0 407.3h0M1811.5 408.1h0M1812.0 408.2h0M1819.1 408.3h0M1821.5 408.7h0M1824.4 408.9h0M1827.2 408.7h0M1826.1 408.2h0M1828.3 407.2h0M1831.0 408.4h0M1831.8 407.4h0M1832.4 407.9h0M1833.4 408.0h0M1834.9 408.4h0M1834.3 407.8h0M1840.3 407.6h0M1850.8 408.0h0M1854.5 407.9h0M1867.4 408.8h0M1871.2 407.8h0M1882.4 407.7h0M1896.4 408.9h0M1631.2 410.4h0M1631.8 410.1h0M1633.5 410.9h0M1641.8 410.8h0M1640.2 409.3h0M1641.2 410.1h0M1655.5 409.5h0M1656.2 409.7h0M1659.7 410.9h0M1661.9 410.2h0M1665.3 410.0h0M1665.6 410.8h0M1668.0 410.6h0M1670.8 410.6h0M1671.0 410.1h0M1674.4 410.3h0M1675.6 410.5h0M1691.7 410.0h0M1692.5 410.4h0M1697.6 409.9h0M1699.1 409.3h0M1703.8 409.8h0M1704.1 409.2h0M1706.2 409.7h0M1708.6 410.7h0M1710.6 409.4h0M1713.5 410.1h0M1718.2 409.8h0M1724.3 410.4h0M1724.4 410.3h0M1724.8 409.0h0M1726.3 410.1h0M1726.3 410.5h0M1731.7 410.8h0M1731.4 410.5h0M1730.6 409.8h0M1732.1 409.9h0M1733.6 409.9h0M1733.7 410.1h0M1737.3 409.4h0M1737.9 409.2h0M1741.3 410.7h0M1742.0 409.7h0M1743.7 410.1h0M1745.0 409.5h0M1746.0 409.2h0M1750.5 409.0h0M1751.3 409.5h0M1752.9 409.9h0M1754.3 410.8h0M1755.8 410.9h0M1755.3 410.5h0M1757.1 410.1h0M1759.9 409.8h0M1758.6 410.2h0M1761.8 409.5h0M1764.0 410.6h0M1765.2 409.1h0M1766.6 410.5h0M1771.3 409.5h0M1770.1 410.2h0M1770.1 410.6h0M1770.4 409.9h0M1770.5 409.4h0M1773.3 411.0h0M1773.3 409.8h0M1775.6 410.8h0M1775.9 410.8h0M1775.5 409.5h0M1779.9 409.0h0M1780.7 409.5h0M1781.3 409.7h0M1783.5 409.6h0M1785.1 410.6h0M1784.4 410.2h0M1786.4 410.2h0M1788.6 410.3h0M1788.4 410.9h0M1791.4 410.5h0M1793.4 409.4h0M1795.5 410.8h0M1796.8 410.6h0M1803.1 409.3h0M1804.3 410.2h0M1807.5 409.0h0M1811.9 410.5h0M1814.5 409.9h0M1814.9 409.6h0M1815.6 410.1h0M1823.9 409.1h0M1824.5 409.2h0M1830.8 410.5h0M1835.6 409.9h0M1841.5 410.1h0M1840.1 410.2h0M1842.3 410.0h0M1871.7 410.4h0M1633.8 412.3h0M1641.6 413.0h0M1644.4 412.3h0M1651.2 412.0h0M1654.2 411.7h0M1665.3 412.7h0M1666.0 412.3h0M1671.1 413.0h0M1674.8 412.8h0M1676.7 411.7h0M1681.3 412.8h0M1680.1 412.4h0M1683.6 412.2h0M1685.1 411.5h0M1687.5 411.2h0M1688.1 411.1h0M1691.5 411.4h0M1690.6 412.0h0M1693.6 411.1h0M1699.2 412.1h0M1701.3 411.5h0M1705.7 412.9h0M1706.5 412.4h0M1706.1 412.6h0M1707.5 411.8h0M1711.3 412.5h0M1711.2 412.8h0M1712.2 412.8h0M1714.9 412.2h0M1718.2 411.6h0M1719.3 411.9h0M1723.1 412.8h0M1725.8 411.9h0M1727.8 411.2h0M1727.8 412.5h0M1729.2 411.5h0M1729.2 412.9h0M1731.1 412.2h0M1732.2 411.4h0M1733.8 412.8h0M1734.4 411.9h0M1739.4 411.4h0M1738.8 411.8h0M1738.6 411.1h0M1741.0 411.4h0M1745.1 411.8h0M1745.2 411.4h0M1748.7 412.8h0M1750.8 411.4h0M1757.6 412.0h0M1756.3 412.6h0M1758.8 411.2h0M1760.3 412.2h0M1766.8 412.2h0M1769.8 412.4h0M1769.0 412.8h0M1770.1 411.1h0M1771.4 411.0h0M1770.0 411.9h0M1773.7 411.9h0M1775.9 412.2h0M1776.8 411.1h0M1779.7 412.9h0M1783.6 412.4h0M1783.3 411.0h0M1784.4 412.5h0M1787.7 411.1h0M1787.7 411.4h0M1791.4 411.1h0M1792.9 412.6h0M1795.1 412.4h0M1796.9 412.2h0M1800.6 411.2h0M1801.3 412.1h0M1805.2 412.4h0M1806.3 411.2h0M1809.0 411.9h0M1808.2 411.0h0M1809.1 412.2h0M1812.1 411.3h0M1814.9 412.0h0M1814.5 411.9h0M1822.7 412.1h0M1824.0 412.2h0M1825.0 412.5h0M1830.0 412.2h0M1848.5 411.9h0M1649.1 414.0h0M1651.0 414.4h0M1653.1 413.4h0M1655.8 414.7h0M1660.0 414.9h0M1661.9 414.6h0M1668.7 413.2h0M1676.6 414.7h0M1679.5 413.3h0M1685.7 413.8h0M1688.1 414.1h0M1688.4 413.7h0M1697.3 414.6h0M1701.0 414.1h0M1705.5 414.2h0M1707.6 414.0h0M1708.7 413.2h0M1711.3 414.6h0M1713.2 413.0h0M1714.8 414.7h0M1717.0 414.6h0M1716.2 413.4h0M1720.7 413.4h0M1722.9 414.2h0M1722.3 414.1h0M1724.8 414.1h0M1725.8 413.3h0M1725.9 414.3h0M1729.7 414.3h0M1728.1 413.5h0M1729.4 414.3h0M1730.9 413.8h0M1733.9 414.7h0M1734.6 414.9h0M1735.2 413.6h0M1734.9 415.0h0M1737.3 414.9h0M1737.5 414.1h0M1736.4 413.8h0M1738.0 413.2h0M1740.6 414.2h0M1742.0 414.2h0M1743.6 413.9h0M1742.2 414.6h0M1742.2 414.3h0M1746.8 414.9h0M1747.1 414.8h0M1750.0 414.3h0M1751.2 413.5h0M1750.8 413.4h0M1752.3 413.1h0M1754.3 414.6h0M1756.0 414.8h0M1754.9 413.8h0M1760.2 414.4h0M1763.4 414.7h0M1764.6 414.9h0M1764.4 413.6h0M1769.8 413.2h0M1769.7 413.7h0M1771.9 414.8h0M1774.1 413.6h0M1777.4 414.0h0M1779.4 413.1h0M1780.3 413.5h0M1781.5 413.3h0M1785.4 414.4h0M1785.4 414.9h0M1788.7 413.2h0M1795.4 414.5h0M1798.0 414.6h0M1803.7 414.0h0M1803.2 414.0h0M1807.0 414.6h0M1806.8 414.2h0M1808.9 413.6h0M1810.0 413.9h0M1810.2 414.6h0M1814.7 414.1h0M1814.5 413.1h0M1823.2 413.5h0M1827.5 413.2h0M1830.7 413.1h0M1832.1 413.4h0M1839.0 415.0h0M1843.0 414.5h0M1848.4 414.7h0M1848.4 414.8h0M1852.1 413.6h0M1641.2 416.8h0M1641.0 416.1h0M1645.2 416.2h0M1648.0 417.0h0M1655.8 416.4h0M1659.9 416.9h0M1665.5 416.8h0M1666.1 416.4h0M1670.9 417.0h0M1670.2 416.0h0M1679.0 415.6h0M1681.4 416.0h0M1692.4 415.2h0M1696.9 415.9h0M1701.4 416.3h0M1702.8 415.4h0M1706.4 416.6h0M1710.6 415.8h0M1710.6 416.1h0M1710.6 416.0h0M1713.3 416.8h0M1714.7 415.3h0M1714.5 415.8h0M1717.0 416.5h0M1716.1 416.1h0M1717.5 416.7h0M1717.7 416.3h0M1719.2 416.0h0M1720.2 416.2h0M1723.6 415.0h0M1724.6 416.6h0M1724.7 415.3h0M1728.9 416.7h0M1731.7 415.7h0M1737.1 416.3h0M1737.5 416.3h0M1736.8 416.5h0M1741.9 415.7h0M1743.3 415.5h0M1742.1 416.7h0M1744.2 415.2h0M1748.4 415.1h0M1750.3 415.2h0M1754.0 415.3h0M1756.5 416.5h0M1760.9 415.5h0M1760.9 416.5h0M1761.3 416.8h0M1765.9 415.1h0M1766.5 416.9h0M1766.6 415.4h0M1766.3 415.8h0M1768.8 415.3h0M1768.5 415.6h0M1773.0 416.4h0M1772.5 416.4h0M1773.5 416.9h0M1772.0 415.8h0M1775.2 415.5h0M1774.6 415.1h0M1776.3 415.6h0M1779.7 415.1h0M1779.5 416.0h0M1781.2 415.4h0M1780.5 416.5h0M1781.1 415.1h0M1785.9 416.1h0M1786.3 415.5h0M1790.6 415.8h0M1794.0 415.4h0M1795.6 415.4h0M1802.6 415.4h0M1803.5 416.7h0M1804.8 416.6h0M1806.4 415.9h0M1811.6 415.2h0M1822.5 416.4h0M1822.8 416.7h0M1827.8 417.0h0M1833.8 416.3h0M1832.9 416.0h0M1837.6 416.4h0M1876.8 415.7h0M1893.1 415.7h0M1640.0 418.7h0M1647.9 418.8h0M1650.5 417.6h0M1654.2 417.4h0M1656.6 417.7h0M1660.3 418.9h0M1668.8 418.4h0M1668.5 418.6h0M1670.8 417.7h0M1673.6 417.5h0M1675.2 418.2h0M1679.3 418.2h0M1680.6 417.8h0M1690.5 418.9h0M1690.6 418.4h0M1699.8 417.7h0M1699.0 418.8h0M1701.5 417.3h0M1701.3 418.9h0M1700.8 417.9h0M1703.8 418.4h0M1702.6 418.9h0M1702.5 417.4h0M1704.9 417.1h0M1707.1 417.9h0M1710.1 418.3h0M1713.8 418.2h0M1715.1 417.4h0M1718.8 417.2h0M1719.0 417.4h0M1720.5 417.5h0M1721.6 417.2h0M1722.9 417.0h0M1723.3 418.5h0M1727.1 417.7h0M1727.0 417.3h0M1731.2 418.2h0M1733.0 418.8h0M1735.1 418.9h0M1737.5 418.0h0M1740.5 417.5h0M1741.7 418.8h0M1745.4 417.8h0M1744.2 418.4h0M1749.2 418.2h0M1749.8 418.4h0M1751.9 417.1h0M1750.6 417.4h0M1757.3 418.9h0M1756.5 417.1h0M1758.3 418.2h0M1762.8 417.3h0M1762.3 417.2h0M1766.0 418.0h0M1766.5 418.0h0M1767.1 418.3h0M1771.8 417.9h0M1771.1 418.8h0M1775.9 417.3h0M1775.0 418.0h0M1777.0 418.0h0M1778.1 418.2h0M1778.3 418.9h0M1786.7 417.6h0M1788.5 417.1h0M1790.1 417.8h0M1791.6 417.5h0M1792.1 417.2h0M1797.6 417.8h0M1796.9 418.1h0M1801.9 418.0h0M1803.4 418.3h0M1805.5 418.0h0M1808.9 418.7h0M1811.2 417.8h0M1812.8 418.6h0M1813.4 418.1h0M1815.8 418.7h0M1817.0 418.6h0M1816.6 418.6h0M1819.6 417.5h0M1821.4 417.5h0M1823.6 417.1h0M1827.1 417.4h0M1835.3 417.8h0M1834.2 417.3h0M1835.8 418.4h0M1840.3 417.7h0M1857.6 418.6h0M1866.2 417.4h0M1870.5 417.5h0M1880.3 417.7h0M1889.6 417.3h0M1645.8 420.9h0M1648.2 420.2h0M1651.7 419.8h0M1662.3 419.8h0M1664.6 420.2h0M1665.1 420.7h0M1667.1 420.1h0M1671.8 419.7h0M1676.3 420.6h0M1682.8 420.1h0M1685.8 419.7h0M1687.7 419.2h0M1691.9 419.6h0M1692.5 420.5h0M1695.4 419.8h0M1699.1 419.3h0M1705.3 420.4h0M1707.7 419.1h0M1710.0 419.2h0M1710.5 420.6h0M1712.8 419.6h0M1714.1 419.4h0M1714.2 420.4h0M1716.6 420.4h0M1719.0 420.5h0M1718.1 420.7h0M1722.7 420.0h0M1723.2 419.7h0M1725.6 420.7h0M1727.8 419.1h0M1729.1 420.2h0M1732.8 419.2h0M1739.0 420.7h0M1740.7 420.5h0M1743.3 420.9h0M1744.2 420.9h0M1746.2 420.8h0M1749.0 420.4h0M1749.1 419.7h0M1756.6 419.2h0M1757.1 420.4h0M1759.2 419.6h0M1758.2 420.2h0M1759.6 420.1h0M1761.8 419.5h0M1763.4 420.1h0M1765.4 421.0h0M1764.7 419.3h0M1769.7 420.5h0M1768.4 420.8h0M1775.6 420.7h0M1776.3 419.5h0M1781.7 419.4h0M1780.6 419.9h0M1783.7 420.2h0M1788.5 420.7h0M1789.1 419.8h0M1789.5 419.0h0M1798.9 419.7h0M1801.0 420.9h0M1803.9 420.9h0M1806.4 420.4h0M1808.0 420.2h0M1811.3 419.8h0M1814.5 420.8h0M1814.5 419.8h0M1818.9 419.3h0M1819.6 419.2h0M1823.2 419.6h0M1836.4 419.4h0M1841.4 420.5h0M1844.3 419.3h0M1849.9 419.3h0M1855.6 419.2h0M1867.7 419.6h0M1631.6 421.4h0M1632.7 421.7h0M1645.8 421.8h0M1644.2 422.1h0M1649.3 421.4h0M1654.2 422.1h0M1669.8 422.6h0M1671.6 422.6h0M1670.3 422.9h0M1678.6 422.7h0M1680.3 421.4h0M1685.7 421.8h0M1686.8 421.7h0M1686.3 421.1h0M1689.7 421.7h0M1693.8 422.8h0M1695.3 422.5h0M1699.2 421.7h0M1698.2 422.0h0M1704.1 421.5h0M1713.5 421.6h0M1713.0 422.6h0M1717.3 421.9h0M1716.8 421.2h0M1718.6 421.8h0M1719.2 421.3h0M1722.6 422.5h0M1723.4 422.0h0M1727.3 422.1h0M1727.6 421.0h0M1730.7 422.6h0M1732.3 421.6h0M1733.0 421.9h0M1738.7 423.0h0M1738.0 421.4h0M1741.5 422.6h0M1744.0 421.1h0M1745.4 421.2h0M1744.1 421.8h0M1744.2 421.9h0M1745.6 422.3h0M1749.2 421.6h0M1751.2 421.2h0M1751.0 422.9h0M1751.0 421.2h0M1757.5 422.0h0M1757.2 422.8h0M1761.8 421.3h0M1767.6 422.8h0M1767.3 422.2h0M1768.6 421.8h0M1773.3 422.8h0M1773.0 421.5h0M1774.6 421.7h0M1777.3 422.6h0M1779.1 421.6h0M1778.4 422.6h0M1779.7 421.3h0M1781.2 422.3h0M1782.2 422.6h0M1784.7 421.7h0M1787.7 422.3h0M1792.8 421.5h0M1792.4 421.1h0M1798.4 422.4h0M1802.8 421.9h0M1806.4 422.9h0M1807.9 421.1h0M1807.9 422.8h0M1809.0 422.4h0M1810.7 422.3h0M1813.9 422.0h0M1815.8 421.1h0M1824.2 423.0h0M1833.9 421.6h0M1834.2 421.4h0M1839.0 421.7h0M1839.9 421.2h0M1840.5 421.8h0M1845.1 422.6h0M1846.5 422.5h0M1857.8 422.1h0M1859.2 421.8h0M1860.7 421.2h0M1881.5 421.6h0M1882.8 421.5h0M1647.4 423.0h0M1646.7 423.3h0M1649.5 424.0h0M1651.7 424.1h0M1654.9 423.9h0M1658.1 424.9h0M1660.1 424.2h0M1664.0 424.8h0M1687.6 424.4h0M1689.8 424.1h0M1691.7 424.2h0M1697.5 424.6h0M1696.3 424.6h0M1701.9 424.0h0M1703.8 424.2h0M1704.7 424.5h0M1714.9 424.4h0M1714.9 423.7h0M1720.0 424.1h0M1721.0 424.4h0M1721.3 424.0h0M1724.5 424.2h0M1726.6 424.4h0M1729.5 423.3h0M1728.6 423.8h0M1728.2 424.8h0M1732.7 423.9h0M1732.5 423.1h0M1732.9 423.0h0M1741.9 424.3h0M1744.2 423.6h0M1747.1 424.6h0M1748.3 423.9h0M1748.4 423.5h0M1748.3 423.7h0M1748.5 424.0h0M1750.1 423.5h0M1751.9 424.2h0M1752.0 424.9h0M1750.6 423.6h0M1752.0 424.6h0M1753.3 424.8h0M1754.6 423.5h0M1755.4 424.8h0M1756.8 424.4h0M1764.7 423.3h0M1767.3 423.3h0M1772.9 423.4h0M1775.8 424.9h0M1779.5 423.1h0M1778.7 424.3h0M1779.1 424.7h0M1780.7 424.6h0M1785.7 423.8h0M1786.6 423.0h0M1791.9 423.8h0M1791.9 423.9h0M1790.4 424.4h0M1793.4 424.2h0M1794.9 424.5h0M1796.1 424.1h0M1799.1 423.4h0M1802.0 423.6h0M1804.3 423.5h0M1810.3 423.9h0M1812.7 424.3h0M1812.8 424.9h0M1814.4 424.8h0M1817.9 424.0h0M1818.2 424.3h0M1826.9 424.9h0M1830.4 424.8h0M1837.2 423.4h0M1838.2 423.6h0M1841.4 424.4h0M1843.8 423.1h0M1854.6 424.7h0M1646.7 426.4h0M1662.4 425.7h0M1670.9 426.1h0M1671.7 426.7h0M1674.7 426.2h0M1677.1 426.3h0M1681.1 427.0h0M1680.9 425.1h0M1681.9 426.4h0M1683.1 425.8h0M1701.6 425.5h0M1709.3 425.4h0M1712.0 425.3h0M1713.9 425.3h0M1715.0 426.2h0M1725.1 425.1h0M1726.0 426.3h0M1727.3 425.3h0M1728.3 425.8h0M1730.9 426.9h0M1733.6 425.9h0M1735.8 426.9h0M1734.7 426.8h0M1734.2 426.5h0M1738.1 426.1h0M1743.2 426.6h0M1745.0 425.6h0M1747.9 426.0h0M1750.6 426.9h0M1755.8 425.0h0M1762.3 426.0h0M1765.9 426.5h0M1765.1 425.5h0M1764.3 425.9h0M1770.3 426.1h0M1775.1 426.0h0M1783.9 426.0h0M1783.1 425.2h0M1782.4 426.1h0M1782.7 426.4h0M1786.1 425.2h0M1786.9 425.4h0M1793.7 426.2h0M1792.6 426.0h0M1794.8 425.5h0M1797.0 426.9h0M1803.7 426.2h0M1806.3 426.3h0M1809.1 425.6h0M1810.3 426.7h0M1813.7 426.1h0M1815.0 426.8h0M1820.1 426.6h0M1824.2 426.0h0M1828.1 426.6h0M1831.7 426.6h0M1837.2 426.3h0M1838.6 426.5h0M1856.7 425.6h0M1866.8 425.7h0M1639.3 427.7h0M1641.8 427.5h0M1647.0 428.5h0M1651.6 427.0h0M1670.6 427.7h0M1675.7 428.9h0M1679.3 427.0h0M1682.4 427.8h0M1687.5 427.5h0M1686.8 428.8h0M1688.1 428.8h0M1693.8 428.7h0M1692.3 427.7h0M1695.1 427.0h0M1702.8 428.9h0M1702.3 428.2h0M1705.4 427.0h0M1710.5 427.7h0M1711.0 428.7h0M1711.5 427.6h0M1721.0 427.2h0M1724.7 427.4h0M1727.2 428.7h0M1731.2 428.1h0M1735.6 428.4h0M1738.5 428.1h0M1740.5 428.5h0M1744.8 427.3h0M1750.1 427.3h0M1753.6 428.4h0M1752.7 427.4h0M1756.9 427.9h0M1757.6 428.3h0M1758.1 427.4h0M1763.3 428.6h0M1768.5 428.5h0M1771.9 427.9h0M1770.6 428.1h0M1773.0 427.1h0M1772.3 428.0h0M1772.7 428.0h0M1774.3 428.2h0M1774.3 427.5h0M1777.2 427.5h0M1780.7 428.0h0M1782.5 428.7h0M1784.6 428.2h0M1787.2 427.3h0M1793.0 428.5h0M1797.9 428.1h0M1799.5 427.2h0M1801.2 427.3h0M1801.4 428.3h0M1800.9 428.6h0M1805.9 427.7h0M1807.9 428.8h0M1810.7 428.2h0M1812.6 427.8h0M1819.2 428.5h0M1821.2 427.5h0M1823.1 428.2h0M1826.6 428.4h0M1828.5 428.6h0M1831.6 428.5h0M1832.9 427.4h0M1836.9 428.2h0M1838.2 428.9h0M1840.2 428.2h0M1842.7 427.5h0M1852.7 428.1h0M1865.6 427.4h0M1870.4 428.4h0M1872.0 427.3h0M1885.3 428.2h0M1647.4 429.8h0M1657.2 429.4h0M1666.6 430.2h0M1668.9 430.3h0M1679.2 429.7h0M1688.7 431.0h0M1693.1 430.9h0M1697.4 430.5h0M1698.9 430.9h0M1701.0 431.0h0M1701.3 429.4h0M1703.4 430.1h0M1704.0 430.1h0M1711.6 430.3h0M1711.2 430.9h0M1712.8 429.4h0M1718.3 429.5h0M1722.5 430.0h0M1728.5 430.4h0M1731.6 430.4h0M1735.4 429.9h0M1736.3 430.1h0M1737.0 429.5h0M1739.6 431.0h0M1744.8 430.8h0M1747.1 429.3h0M1747.9 430.3h0M1754.8 429.9h0M1755.2 430.9h0M1761.8 429.5h0M1761.0 430.9h0M1763.2 429.9h0M1766.9 429.9h0M1768.2 430.7h0M1774.0 429.4h0M1774.2 429.2h0M1777.2 429.0h0M1778.9 429.4h0M1784.0 429.8h0M1791.0 429.4h0M1791.5 430.6h0M1792.9 430.0h0M1795.8 429.6h0M1806.0 430.9h0M1813.0 430.1h0M1825.1 430.4h0M1827.5 430.2h0M1837.0 430.7h0M1837.3 429.3h0M1839.0 429.1h0M1864.4 429.6h0M1652.2 431.7h0M1662.9 432.4h0M1662.6 432.2h0M1669.1 431.8h0M1678.0 431.3h0M1682.7 432.0h0M1687.6 431.9h0M1694.4 432.2h0M1697.0 431.9h0M1698.2 431.8h0M1703.1 431.7h0M1702.7 431.4h0M1710.0 432.8h0M1719.1 431.7h0M1734.9 432.7h0M1737.4 432.5h0M1741.0 431.3h0M1740.7 432.5h0M1742.7 431.4h0M1742.9 432.6h0M1746.5 432.3h0M1749.9 431.3h0M1752.1 432.0h0M1753.3 431.4h0M1761.5 432.3h0M1765.5 431.6h0M1766.7 431.5h0M1770.7 431.7h0M1772.5 431.1h0M1772.4 431.5h0M1775.1 432.3h0M1775.1 432.7h0M1783.6 433.0h0M1794.1 432.2h0M1804.4 432.2h0M1807.4 432.3h0M1813.9 432.4h0M1814.1 431.2h0M1823.7 432.4h0M1824.6 431.5h0M1835.1 432.0h0M1840.5 431.9h0M1847.3 432.0h0M1857.8 431.6h0M1635.9 434.5h0M1656.3 435.0h0M1661.9 433.2h0M1663.6 434.9h0M1671.9 434.9h0M1675.6 435.0h0M1688.1 433.3h0M1692.1 434.0h0M1701.7 434.7h0M1701.5 433.4h0M1703.8 433.7h0M1713.1 435.0h0M1712.3 433.6h0M1717.6 433.4h0M1719.3 433.1h0M1719.3 434.9h0M1722.9 434.8h0M1723.2 433.9h0M1726.8 433.1h0M1727.3 434.3h0M1728.8 434.2h0M1736.5 433.8h0M1738.0 433.7h0M1738.4 435.0h0M1741.8 434.0h0M1743.2 433.6h0M1753.5 434.5h0M1753.3 433.2h0M1758.2 434.7h0M1758.6 434.5h0M1758.1 433.4h0M1762.0 433.7h0M1764.3 433.8h0M1771.3 433.8h0M1771.4 434.0h0M1777.6 433.8h0M1781.0 434.4h0M1780.6 434.5h0M1787.5 433.5h0M1792.8 433.2h0M1805.5 433.8h0M1804.2 433.3h0M1811.9 434.3h0M1827.6 434.6h0M1832.0 434.8h0M1835.2 434.9h0M1848.6 434.4h0M1672.5 437.0h0M1678.6 436.4h0M1686.5 435.4h0M1690.5 436.6h0M1691.4 436.9h0M1692.3 436.9h0M1702.7 436.5h0M1703.5 435.2h0M1709.9 435.7h0M1712.1 436.2h0M1713.5 436.6h0M1714.3 436.7h0M1720.4 435.6h0M1721.3 435.8h0M1723.3 435.4h0M1724.4 436.6h0M1732.1 435.9h0M1734.6 435.4h0M1734.8 436.6h0M1738.5 436.6h0M1745.6 436.7h0M1750.5 435.4h0M1751.0 435.2h0M1752.0 435.8h0M1753.9 436.9h0M1754.1 436.3h0M1754.6 435.4h0M1764.0 436.5h0M1765.6 436.5h0M1766.3 435.4h0M1770.0 435.8h0M1779.5 436.7h0M1781.9 437.0h0M1785.6 435.1h0M1785.5 435.3h0M1787.1 435.8h0M1791.7 436.5h0M1795.3 436.4h0M1797.1 435.1h0M1798.2 436.1h0M1806.5 435.2h0M1808.2 435.2h0M1811.0 435.4h0M1819.6 435.4h0M1827.4 435.5h0M1848.7 435.6h0M1868.0 435.1h0M1640.4 437.7h0M1653.0 438.4h0M1653.0 437.5h0M1684.5 437.2h0M1702.1 438.9h0M1702.7 437.0h0M1706.2 437.6h0M1707.0 438.2h0M1737.0 438.5h0M1740.2 438.6h0M1743.2 438.1h0M1760.3 437.0h0M1762.9 437.6h0M1766.5 438.9h0M1768.1 437.4h0M1769.6 437.4h0M1773.4 437.6h0M1774.5 437.3h0M1777.7 438.3h0M1779.8 437.1h0M1781.9 437.7h0M1787.0 439.0h0M1799.2 437.0h0M1799.0 437.3h0M1801.2 438.9h0M1803.4 438.9h0M1815.8 438.3h0M1815.9 438.8h0M1817.6 437.3h0M1823.6 437.6h0M1826.0 437.5h0M1827.9 438.8h0M1844.6 438.8h0M1863.9 438.4h0M1649.6 440.5h0M1648.6 439.2h0M1655.8 440.7h0M1658.5 439.2h0M1667.0 439.8h0M1683.6 440.3h0M1683.9 439.5h0M1692.9 439.1h0M1694.8 440.5h0M1695.9 439.4h0M1699.7 440.1h0M1701.3 440.7h0M1701.9 440.8h0M1707.6 439.5h0M1708.9 439.2h0M1710.9 439.1h0M1716.1 440.9h0M1719.0 440.7h0M1723.2 440.3h0M1724.6 439.9h0M1725.0 440.3h0M1725.2 440.3h0M1726.2 439.7h0M1727.9 439.9h0M1734.4 440.5h0M1736.9 440.6h0M1736.1 440.2h0M1739.6 439.8h0M1739.7 439.7h0M1742.8 440.8h0M1742.8 439.0h0M1747.1 439.5h0M1746.1 440.2h0M1754.5 439.9h0M1756.5 440.0h0M1759.3 440.5h0M1761.8 440.7h0M1775.5 440.8h0M1777.1 439.5h0M1776.0 441.0h0M1776.0 440.2h0M1787.5 440.6h0M1788.4 439.4h0M1792.2 439.5h0M1796.2 440.3h0M1796.5 440.8h0M1798.4 440.3h0M1799.4 440.0h0M1799.7 440.1h0M1807.6 440.7h0M1807.4 440.3h0M1814.0 439.5h0M1818.2 439.3h0M1828.3 440.7h0M1843.7 440.8h0M1852.2 439.9h0M1879.4 440.4h0M1641.1 441.3h0M1645.2 442.5h0M1658.7 441.9h0M1659.5 442.7h0M1666.5 442.4h0M1670.1 442.3h0M1678.1 442.7h0M1681.5 442.7h0M1693.3 442.3h0M1702.5 442.3h0M1704.3 442.8h0M1706.7 442.3h0M1708.8 442.6h0M1717.4 441.9h0M1725.8 442.9h0M1730.9 442.2h0M1736.7 442.3h0M1739.9 441.4h0M1741.6 442.8h0M1744.8 441.6h0M1744.7 442.0h0M1745.3 442.0h0M1747.2 442.2h0M1766.0 441.4h0M1767.4 442.0h0M1768.9 441.6h0M1770.7 441.4h0M1782.8 442.8h0M1784.4 442.3h0M1785.8 441.6h0M1789.7 442.6h0M1800.0 441.1h0M1808.1 441.0h0M1809.3 441.0h0M1811.1 441.5h0M1817.9 441.3h0M1822.2 441.0h0M1830.4 442.2h0M1832.6 442.7h0M1836.9 441.2h0M1841.5 442.2h0M1666.9 444.3h0M1669.4 443.2h0M1670.8 444.2h0M1672.3 444.2h0M1677.5 444.2h0M1693.0 444.2h0M1696.8 443.1h0M1696.4 444.4h0M1698.5 444.7h0M1706.0 443.2h0M1725.3 444.0h0M1732.4 445.0h0M1733.9 444.9h0M1737.4 443.5h0M1743.1 443.3h0M1744.9 443.7h0M1745.7 443.8h0M1755.7 445.0h0M1762.0 443.1h0M1779.0 443.2h0M1780.0 443.3h0M1785.7 444.2h0M1786.8 443.5h0M1787.0 444.5h0M1788.0 444.4h0M1791.2 443.4h0M1797.6 444.4h0M1801.6 444.4h0M1817.2 444.4h0M1819.0 444.4h0M1825.3 443.5h0M1827.3 443.5h0M1833.3 443.4h0M1832.5 444.0h0M1676.9 445.6h0M1678.7 446.7h0M1704.2 445.8h0M1707.7 446.1h0M1707.5 445.2h0M1713.7 446.9h0M1715.9 446.3h0M1718.9 446.5h0M1721.6 446.5h0M1723.4 445.9h0M1724.1 445.0h0M1734.9 445.6h0M1737.2 446.6h0M1736.2 445.3h0M1745.1 446.7h0M1746.2 445.7h0M1749.7 445.1h0M1765.3 447.0h0M1777.2 446.0h0M1778.8 446.3h0M1785.4 446.8h0M1793.0 445.2h0M1797.3 446.9h0M1799.4 446.3h0M1799.2 446.5h0M1806.4 445.5h0M1809.3 446.0h0M1810.3 445.3h0M1820.3 445.1h0M1827.5 445.0h0M1836.9 445.4h0M1844.8 446.6h0M1644.7 448.9h0M1668.1 448.9h0M1671.6 448.0h0M1704.6 448.6h0M1704.0 448.6h0M1710.2 447.3h0M1714.2 448.2h0M1716.5 448.2h0M1719.6 448.3h0M1722.1 447.7h0M1724.3 448.8h0M1732.0 447.1h0M1730.0 448.9h0M1745.1 448.5h0M1749.1 447.1h0M1752.0 447.8h0M1759.8 447.6h0M1763.1 447.2h0M1774.3 448.2h0M1777.5 447.2h0M1778.0 447.9h0M1779.3 448.1h0M1782.8 447.9h0M1784.9 447.5h0M1790.9 448.8h0M1806.0 448.7h0M1811.8 448.0h0M1817.7 448.6h0M1823.2 448.4h0M1823.3 448.7h0M1825.2 447.4h0M1827.4 448.6h0M1829.2 447.6h0M1843.1 447.5h0M1847.3 448.5h0M1659.1 449.2h0M1671.2 449.4h0M1681.9 450.0h0M1686.1 449.7h0M1723.6 449.2h0M1729.7 450.7h0M1730.7 450.0h0M1731.0 449.2h0M1735.8 450.7h0M1742.9 450.0h0M1752.9 450.9h0M1754.5 450.9h0M1765.3 450.5h0M1770.4 450.9h0M1776.6 449.0h0M1787.7 450.0h0M1790.3 450.1h0M1798.6 449.4h0M1815.5 449.8h0M1822.9 449.7h0M1825.9 450.5h0M1837.5 449.6h0M1840.7 450.7h0M1845.9 450.2h0M1844.9 449.5h0M1852.9 449.4h0M1693.1 451.8h0M1702.6 452.0h0M1709.8 452.8h0M1712.9 451.6h0M1714.1 452.0h0M1727.7 451.2h0M1727.9 451.0h0M1734.2 451.9h0M1740.7 451.9h0M1773.2 452.9h0M1774.9 452.8h0M1776.4 451.8h0M1789.5 451.4h0M1790.3 452.1h0M1794.2 452.8h0M1803.1 452.0h0M1815.4 452.2h0M1670.3 454.2h0M1689.3 453.8h0M1708.7 454.9h0M1711.2 453.4h0M1723.0 453.2h0M1739.7 454.8h0M1751.9 453.4h0M1758.9 454.8h0M1768.4 454.9h0M1775.7 453.4h0M1814.1 454.0h0M1832.8 454.9h0M1833.5 454.3h0M1839.6 454.9h0M1737.4 455.7h0M1757.1 455.7h0M1757.6 455.1h0M1770.7 455.7h0M1771.9 456.6h0M1781.9 456.6h0M1789.1 456.8h0M1792.6 455.1h0M1815.2 455.4h0M1821.0 455.9h0M1689.8 457.8h0M1690.8 457.4h0M1720.3 457.6h0M1732.4 457.3h0M1749.7 457.0h0M1770.1 458.6h0M1778.9 457.3h0M1780.9 458.8h0M1797.8 458.1h0M1808.4 458.5h0M1851.3 457.1h0M1864.6 457.9h0M1693.1 460.6h0M1724.0 459.9h0M1727.4 460.0h0M1729.4 460.9h0M1733.3 460.6h0M1848.2 460.1h0M1676.9 461.0h0M1696.6 462.4h0M1696.2 461.2h0M1703.4 461.4h0M1718.8 462.0h0M1724.0 461.6h0M1745.8 461.7h0M1746.7 461.2h0M1756.8 461.2h0M1759.5 462.8h0M1786.2 461.2h0M1806.6 462.7h0M1808.9 461.3h0M1813.4 461.3h0M1817.5 461.9h0M1834.7 461.9h0M1850.0 462.4h0M1706.6 464.2h0M1706.0 464.2h0M1719.5 464.4h0M1728.4 463.5h0M1732.4 464.5h0M1747.4 464.1h0M1748.1 463.2h0M1850.5 464.1h0M1673.9 466.7h0M1699.7 466.0h0M1701.7 465.3h0M1717.5 465.3h0M1719.5 465.4h0M1728.6 465.5h0M1733.2 465.7h0M1756.7 466.4h0M1795.7 465.9h0M1852.3 466.0h0M1696.1 467.6h0M1733.3 468.8h0M1734.4 468.5h0M1735.4 468.1h0M1741.6 468.9h0M1778.3 467.5h0M1782.8 468.4h0M1783.4 468.1h0M1789.8 467.2h0M1818.1 468.4h0M1825.0 468.7h0M1847.9 467.3h0M1682.0 470.1h0M1690.1 470.2h0M1715.8 470.9h0M1723.3 469.3h0M1724.7 469.8h0M1747.4 469.8h0M1693.0 472.5h0M1713.5 471.9h0M1748.3 471.5h0M1815.8 471.1h0M1817.1 471.1h0M1826.7 471.3h0M1688.2 473.1h0M1711.1 474.6h0M1726.6 473.9h0M1740.0 473.8h0M1788.2 473.9h0M1805.9 473.6h0M1718.2 476.9h0M1748.6 475.9h0M1750.5 475.8h0M1787.4 475.0h0M1809.9 476.2h0M1726.8 477.1h0M1744.1 478.3h0M1775.3 478.9h0M1706.6 480.3h0M1746.5 479.3h0M1769.3 480.7h0M1814.8 481.5h0M1720.0 484.6h0M1791.1 484.0h0M1722.3 485.0h0M1729.3 485.6h0M1733.5 486.6h0M1746.5 486.5h0M1785.5 485.2h0M1727.7 487.6h0M1741.0 488.0h0M1749.3 488.7h0M1776.6 489.0h0M1820.1 487.7h0M1750.1 493.3h0M1767.3 497.0h0M1748.5 499.9h0M1738.6 509.6h0M1590.0 327.4h0M1587.6 326.3h0M1582.7 336.8h0M1583.7 395.4h0M1569.2 300.2h0M1588.2 371.6h0M1584.9 308.4h0M1597.2 309.8h0M1592.6 305.2h0M1599.2 347.3h0M1616.5 348.3h0M1591.3 339.3h0M1612.8 323.3h0M1607.7 326.7h0M1585.1 311.6h0M1599.2 341.5h0M1607.9 356.5h0M1585.6 325.3h0M1607.5 329.9h0M1606.0 335.5h0M1612.7 362.2h0M1584.0 295.7h0M1610.3 376.6h0M1584.9 329.4h0M1569.0 290.8h0M1618.2 406.6h0M1577.4 348.3h0M1587.9 305.3h0M1600.7 349.9h0M1610.4 327.8h0M1591.0 299.3h0M1618.6 340.8h0M1609.3 367.7h0M1589.6 366.9h0M1593.0 314.8h0M1569.3 292.2h0M1587.5 314.7h0M1581.8 348.9h0M1606.5 355.0h0M1580.6 339.2h0M1619.2 349.2h0M1615.5 305.7h0M1586.0 338.4h0M1590.0 347.0h0M1597.2 290.6h0M1582.6 381.0h0M1586.4 296.7h0M1592.1 305.1h0M1610.9 339.7h0M1604.1 385.1h0M1576.8 382.6h0M1609.7 314.0h0M1575.4 296.8h0M1603.4 327.8h0M1617.0 324.6h0M1597.9 298.6h0M1599.3 387.5h0M1596.4 356.6h0M1605.6 369.0h0M1587.5 323.9h0M1596.3 298.2h0M1607.0 319.9h0M1580.6 344.8h0M1596.6 346.0h0M1616.6 371.6h0M1577.2 340.1h0M1584.3 393.7h0M1590.8 354.0h0M1596.6 313.8h0M1615.0 305.8h0M1617.2 360.4h0M1577.2 313.4h0M1604.5 337.0h0M1585.3 341.0h0M1578.1 360.8h0M1578.8 367.2h0M1581.8 290.9h0M1595.1 367.9h0M1586.7 320.6h0M1593.3 350.6h0M1597.6 337.8h0M1588.5 353.3h0M1577.9 343.4h0M1590.3 388.4h0M1616.0 361.4h0M1613.6 325.8h0M1614.3 351.4h0M1590.9 296.5h0M1589.7 376.5h0M1591.5 344.7h0M1601.9 304.2h0M1577.3 294.2h0M1597.4 398.3h0M1583.4 352.8h0M1603.1 322.5h0M1602.2 362.1h0M1579.6 331.2h0M1604.8 387.8h0M1596.4 350.1h0M1614.8 370.6h0M1567.1 294.9h0M1575.5 299.4h0M1585.3 290.0h0M1604.7 338.7h0M1618.6 365.4h0M1606.2 384.0h0M1578.0 310.8h0M1615.3 329.6h0M1610.3 336.1h0M1602.8 294.8h0M1603.5 406.5h0M1603.8 320.6h0M1603.4 321.8h0M1587.2 336.9h0M1581.0 297.7h0M1593.4 390.7h0M1592.2 393.0h0M1617.2 335.7h0M1582.8 311.0h0M1595.7 322.9h0M1616.8 397.5h0M1588.3 296.6h0M1598.2 367.1h0M1591.4 325.5h0M1604.8 341.0h0M1597.7 386.8h0M1594.5 313.0h0M1583.0 291.7h0M1620.1 381.6h0M1607.4 338.4h0M1582.1 357.3h0M1586.5 362.1h0M1607.5 300.1h0M1589.9 329.6h0M1609.7 365.6h0M1581.1 290.9h0M1582.1 301.9h0M1568.4 288.9h0M1578.4 301.9h0M1579.3 299.1h0M1586.8 283.7h0M1571.6 290.1h0M1575.1 298.6h0M1582.0 286.0h0M1578.6 291.3h0M1586.6 299.1h0M1574.9 297.5h0M1584.8 294.2h0M1581.0 288.9h0M1579.3 277.7h0M1582.8 302.4h0M1569.6 289.5h0M1575.4 48.9h0M1577.0 70.9h0M1593.3 72.5h0M1575.1 85.0h0M1609.6 86.3h0M1684.2 105.4h0M1589.5 114.0h0M1581.8 117.9h0M1583.4 123.6h0M1600.6 125.5h0M1632.5 119.4h0M1661.6 124.2h0M1619.4 128.4h0M1565.8 127.4h0M1564.9 136.7h0M1576.4 137.0h0M1591.7 137.0h0M1590.7 138.9h0M1601.6 133.5h0M1609.2 138.0h0M1629.0 139.9h0M1639.9 145.6h0M1653.6 147.8h0M1564.2 148.2h0M1577.6 147.8h0M1590.4 145.0h0M1587.9 151.7h0M1610.2 149.1h0M1628.7 155.2h0M1690.9 161.6h0M1567.4 167.0h0M1599.7 163.2h0M1603.2 164.8h0M1610.8 164.1h0M1615.3 166.4h0M1604.4 168.6h0M1608.0 170.5h0M1622.6 169.9h0M1606.7 174.0h0M1600.6 173.7h0M1586.6 174.6h0M1580.8 176.9h0M1581.5 178.5h0M1594.9 179.4h0M1585.3 181.3h0M1600.9 178.2h0M1597.4 183.6h0M1600.6 183.6h0M1573.8 182.6h0M1577.6 184.5h0M1570.9 187.4h0M1574.1 189.6h0M1612.4 184.5h0M1622.6 182.6h0M1603.2 187.7h0M1605.1 188.1h0M1594.2 191.2h0M1607.3 191.6h0M1592.6 194.1h0M1594.9 195.4h0M1603.2 192.2h0M1608.9 195.7h0M1616.9 194.4h0M1626.5 193.2h0M1629.3 192.2h0M1644.0 189.0h0M1645.0 196.3h0M1664.4 187.4h0M1672.4 194.4h0M1680.7 188.7h0M1532.3 190.9h0M1543.2 206.9h0M1580.2 198.6h0M1583.4 201.5h0M1585.6 201.1h0M1588.8 198.3h0M1589.5 197.6h0M1592.3 202.4h0M1600.3 200.8h0M1602.5 197.6h0M1604.8 200.2h0M1628.4 200.2h0M1633.5 205.6h0M1621.4 206.9h0M1652.0 197.9h0M1660.0 204.6h0M1664.4 203.7h0M1650.4 208.2h0M1643.4 211.0h0M1637.6 213.3h0M1633.8 212.6h0M1623.9 210.4h0M1615.6 211.0h0M1612.4 209.1h0M1609.2 211.0h0M1601.3 204.3h0M1596.5 207.5h0M1703.0 200.8h0M1678.2 209.7h0M1669.2 214.5h0M1659.0 211.3h0M1799.7 214.5h0M1563.9 218.7h0M1574.8 218.4h0M1591.7 216.8h0M1594.2 220.9h0M1605.1 218.4h0M1608.9 218.4h0M1602.9 222.2h0M1620.7 216.4h0M1622.0 219.0h0M1627.1 216.4h0M1629.7 219.0h0M1631.3 221.9h0M1642.4 216.8h0M1645.6 222.8h0M1651.4 222.5h0M1653.9 220.3h0M1670.2 222.2h0M1671.5 220.6h0M1567.1 223.1h0M1603.2 223.5h0M1798.9 214.6h0M1767.1 234.2h0M1828.1 242.6h0M1839.9 244.5h0M1873.8 239.5h0M1702.4 200.9h0M1904.6 372.0h0M1906.2 389.1h0M1977.7 407.9h0M1943.5 433.0h0M1923.9 400.1h0M1920.5 406.9h0M1913.3 407.2h0M1922.7 415.6h0M1908.0 416.9h0M1913.0 416.9h0M1903.1 431.5h0M1907.7 433.7h0M1894.4 442.4h0M1904.6 371.8h0M1905.2 372.7h0M1906.5 389.5h0M1763.4 512.1h0M1767.4 510.5h0M1788.9 504.9h0M1817.5 504.6h0M1718.6 499.6h0M1565.8 379.7h0M1596.2 404.2h0M1578.0 437.1h0M1614.0 427.5h0M1628.7 438.1h0M1623.9 425.6h0M1632.5 431.4h0M1645.0 436.2h0M1652.3 463.9h0M1675.9 479.2h0M1682.6 483.1h0M1718.4 499.3h0M1746.8 496.1h0M1763.7 512.1h0M1767.8 510.5h0M1789.2 505.1h0M1817.6 505.1h0M1563.6 219.1h0M1566.8 223.9h0M1568.4 227.1h0M1568.1 231.9h0M1566.8 235.7h0M1574.8 218.2h0M1578.0 245.6h0M1580.8 243.7h0" stroke="#2075b4" stroke-width="4" stroke-linecap="round" fill="none"/>
<rect x="1510.5" y="25.7" width="489.50" height="509.70" fill="none" stroke="#111" stroke-width="1.9"/>
<line x1="1502.30" y1="160.65" x2="1510.50" y2="160.65" stroke="#111" stroke-width="1.9"/>
<text x="1493.70" y="172.25" text-anchor="end">−4.0</text>
<line x1="1502.30" y1="300.95" x2="1510.50" y2="300.95" stroke="#111" stroke-width="1.9"/>
<text x="1493.70" y="312.55" text-anchor="end">−4.5</text>
<line x1="1502.30" y1="441.30" x2="1510.50" y2="441.30" stroke="#111" stroke-width="1.9"/>
<text x="1493.70" y="452.90" text-anchor="end">−5.0</text>
<line x1="1535.82" y1="535.40" x2="1535.82" y2="543.60" stroke="#111" stroke-width="1.9"/>
<text x="1535.82" y="575.3" text-anchor="middle">0.6</text>
<line x1="1661.50" y1="535.40" x2="1661.50" y2="543.60" stroke="#111" stroke-width="1.9"/>
<text x="1661.50" y="575.3" text-anchor="middle">1.0</text>
<line x1="1832.03" y1="535.40" x2="1832.03" y2="543.60" stroke="#111" stroke-width="1.9"/>
<text x="1832.03" y="575.3" text-anchor="middle">2.0</text>
<line x1="1931.79" y1="535.40" x2="1931.79" y2="543.60" stroke="#111" stroke-width="1.9"/>
<text x="1931.79" y="575.3" text-anchor="middle">3.0</text>
<line x1="1573.75" y1="535.40" x2="1573.75" y2="540.30" stroke="#111" stroke-width="1.9"/>
<line x1="1606.60" y1="535.40" x2="1606.60" y2="540.30" stroke="#111" stroke-width="1.9"/>
<line x1="1635.58" y1="535.40" x2="1635.58" y2="540.30" stroke="#111" stroke-width="1.9"/>
<text transform="translate(1411.3 280.45) rotate(-90)" text-anchor="middle">Predicted 50 ns σ (log10(S/cm))</text>
<text x="1567.3" y="616.6" font-size="33.45">Predicted 50 ns</text>
<text x="1809.3" y="616.6" font-size="33.9" font-style="italic">D</text>
<text x="1835.2" y="621.7" font-size="24">Li</text>
<text x="1855.0" y="619.0" font-size="38.5">/</text>
<text x="1866.8" y="616.6" font-size="33.9" font-style="italic">D</text>
<text x="1892.6" y="621.7" font-size="24">Poly</text>
<text x="1344" y="29.4" font-size="40" letter-spacing="0.8">(c)</text>
</g>
</svg></body></html>
